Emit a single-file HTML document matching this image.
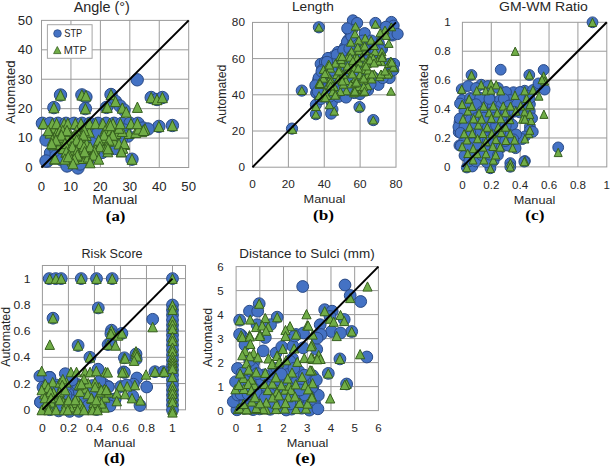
<!DOCTYPE html>
<html><head><meta charset="utf-8"><style>
html,body{margin:0;padding:0;background:#fff;}
svg{display:block;}
</style></head><body>
<svg width="610" height="467" viewBox="0 0 610 467">
<rect width="610" height="467" fill="#fff"/>
<path d="M70.94 167.50V20.40 M100.38 167.50V20.40 M129.82 167.50V20.40 M159.26 167.50V20.40 M41.50 138.08H188.70 M41.50 108.66H188.70 M41.50 79.24H188.70 M41.50 49.82H188.70" stroke="#9a9a9a" stroke-width="1" fill="none"/>
<rect x="41.50" y="20.40" width="147.20" height="147.10" stroke="#9a9a9a" stroke-width="1" fill="none"/>
<path d="M288.38 167.20V22.40 M324.25 167.20V22.40 M360.12 167.20V22.40 M252.50 131.00H396.00 M252.50 94.80H396.00 M252.50 58.60H396.00" stroke="#9a9a9a" stroke-width="1" fill="none"/>
<rect x="252.50" y="22.40" width="143.50" height="144.80" stroke="#9a9a9a" stroke-width="1" fill="none"/>
<path d="M491.28 166.90V22.30 M520.16 166.90V22.30 M549.04 166.90V22.30 M577.92 166.90V22.30 M462.40 137.98H606.80 M462.40 109.06H606.80 M462.40 80.14H606.80 M462.40 51.22H606.80" stroke="#9a9a9a" stroke-width="1" fill="none"/>
<rect x="462.40" y="22.30" width="144.40" height="144.60" stroke="#9a9a9a" stroke-width="1" fill="none"/>
<path d="M68.42 409.80V265.48 M94.44 409.80V265.48 M120.46 409.80V265.48 M146.48 409.80V265.48 M172.50 409.80V265.48 M42.40 383.56H185.51 M42.40 357.32H185.51 M42.40 331.08H185.51 M42.40 304.84H185.51 M42.40 278.60H185.51" stroke="#9a9a9a" stroke-width="1" fill="none"/>
<rect x="42.40" y="265.48" width="143.11" height="144.32" stroke="#9a9a9a" stroke-width="1" fill="none"/>
<path d="M259.82 410.60V266.60 M283.53 410.60V266.60 M307.25 410.60V266.60 M330.97 410.60V266.60 M354.68 410.60V266.60 M236.10 386.60H378.40 M236.10 362.60H378.40 M236.10 338.60H378.40 M236.10 314.60H378.40 M236.10 290.60H378.40" stroke="#9a9a9a" stroke-width="1" fill="none"/>
<rect x="236.10" y="266.60" width="142.30" height="144.00" stroke="#9a9a9a" stroke-width="1" fill="none"/>
<rect x="47.4" y="24.7" width="44.7" height="33.6" fill="#fff" stroke="#a6a6a6" stroke-width="1"/>
<g fill="#4472c4" stroke="#2a4a85" stroke-width="1">
<circle cx="137.2" cy="79.8" r="6.2"/>
<circle cx="60.5" cy="95.0" r="6.2"/>
<circle cx="53.9" cy="107.6" r="6.2"/>
<circle cx="81.9" cy="94.9" r="6.2"/>
<circle cx="85.9" cy="97.0" r="6.2"/>
<circle cx="85.4" cy="108.6" r="6.2"/>
<circle cx="111.0" cy="94.5" r="6.2"/>
<circle cx="115.5" cy="101.4" r="6.2"/>
<circle cx="106.5" cy="107.4" r="6.2"/>
<circle cx="151.2" cy="97.5" r="6.2"/>
<circle cx="157.0" cy="99.5" r="6.2"/>
<circle cx="162.4" cy="97.5" r="6.2"/>
<circle cx="158.9" cy="126.4" r="6.2"/>
<circle cx="172.4" cy="125.5" r="6.2"/>
<circle cx="132.0" cy="159.2" r="6.2"/>
<circle cx="120.0" cy="106.0" r="6.2"/>
<circle cx="124.0" cy="110.0" r="6.2"/>
<circle cx="42.4" cy="123.3" r="6.2"/>
<circle cx="50.0" cy="123.3" r="6.2"/>
<circle cx="58.0" cy="123.3" r="6.2"/>
<circle cx="66.0" cy="123.3" r="6.2"/>
<circle cx="74.0" cy="123.3" r="6.2"/>
<circle cx="82.0" cy="123.3" r="6.2"/>
<circle cx="90.0" cy="123.3" r="6.2"/>
<circle cx="98.0" cy="123.3" r="6.2"/>
<circle cx="106.0" cy="123.3" r="6.2"/>
<circle cx="114.0" cy="123.3" r="6.2"/>
<circle cx="122.0" cy="123.3" r="6.2"/>
<circle cx="130.0" cy="123.3" r="6.2"/>
<circle cx="138.0" cy="123.3" r="6.2"/>
<circle cx="143.0" cy="128.0" r="6.2"/>
<circle cx="148.0" cy="129.0" r="6.2"/>
<circle cx="47.5" cy="161.0" r="6.2"/>
<circle cx="50.5" cy="153.0" r="6.2"/>
<circle cx="56.0" cy="151.0" r="6.2"/>
<circle cx="68.4" cy="165.0" r="6.2"/>
<circle cx="78.0" cy="168.0" r="6.2"/>
<circle cx="92.0" cy="140.0" r="6.2"/>
<circle cx="102.0" cy="146.0" r="6.2"/>
<circle cx="116.0" cy="141.0" r="6.2"/>
<circle cx="88.0" cy="160.0" r="6.2"/>
<circle cx="120.0" cy="150.0" r="6.2"/>
<circle cx="56.0" cy="156.0" r="6.2"/>
<circle cx="62.0" cy="160.0" r="6.2"/>
<circle cx="110.0" cy="135.0" r="6.2"/>
<circle cx="98.0" cy="131.0" r="6.2"/>
<circle cx="124.0" cy="130.0" r="6.2"/>
<circle cx="128.0" cy="136.0" r="6.2"/>
<circle cx="46.0" cy="140.0" r="6.2"/>
<circle cx="93.0" cy="140.5" r="6.2"/>
<circle cx="102.0" cy="152.5" r="6.2"/>
<circle cx="114.5" cy="148.5" r="6.2"/>
<circle cx="98.0" cy="133.0" r="6.2"/>
<circle cx="121.5" cy="138.0" r="6.2"/>
<circle cx="80.0" cy="164.0" r="6.2"/>
<circle cx="67.0" cy="166.0" r="6.2"/>
<circle cx="46.0" cy="161.0" r="6.2"/>
</g>
<g fill="#70ad47" stroke="#365f1e" stroke-width="1" stroke-linejoin="miter">
<path d="M60.5 89.8L65.5 100.2L55.5 100.2Z"/>
<path d="M53.9 102.4L58.9 112.8L48.9 112.8Z"/>
<path d="M81.9 89.8L86.9 100.1L76.9 100.1Z"/>
<path d="M85.9 90.6L90.9 101.0L80.9 101.0Z"/>
<path d="M85.4 103.4L90.4 113.8L80.4 113.8Z"/>
<path d="M111.0 89.3L116.0 99.7L106.0 99.7Z"/>
<path d="M115.5 96.2L120.5 106.6L110.5 106.6Z"/>
<path d="M106.5 102.2L111.5 112.6L101.5 112.6Z"/>
<path d="M151.2 92.3L156.2 102.7L146.2 102.7Z"/>
<path d="M157.0 94.3L162.0 104.7L152.0 104.7Z"/>
<path d="M162.4 92.3L167.4 102.7L157.4 102.7Z"/>
<path d="M158.9 121.2L163.9 131.6L153.9 131.6Z"/>
<path d="M172.4 120.3L177.4 130.7L167.4 130.7Z"/>
<path d="M132.0 154.0L137.0 164.3L127.0 164.3Z"/>
<path d="M137.4 102.0L142.4 112.4L132.4 112.4Z"/>
<path d="M122.3 102.9L127.3 113.2L117.3 113.2Z"/>
<path d="M126.2 106.8L131.2 117.2L121.2 117.2Z"/>
<path d="M107.3 102.0L112.3 112.4L102.3 112.4Z"/>
<path d="M129.1 128.2L134.1 138.5L124.1 138.5Z"/>
<path d="M98.5 138.9L103.5 149.2L93.5 149.2Z"/>
<path d="M141.8 126.3L146.8 136.7L136.8 136.7Z"/>
<path d="M65.3 123.7L70.3 134.0L60.3 134.0Z"/>
<path d="M70.8 152.9L75.8 163.2L65.8 163.2Z"/>
<path d="M105.6 123.4L110.6 133.8L100.6 133.8Z"/>
<path d="M83.5 144.2L88.5 154.5L78.5 154.5Z"/>
<path d="M86.3 130.2L91.3 140.5L81.3 140.5Z"/>
<path d="M53.2 123.0L58.2 133.3L48.2 133.3Z"/>
<path d="M135.7 127.2L140.7 137.6L130.7 137.6Z"/>
<path d="M124.6 139.2L129.6 149.6L119.6 149.6Z"/>
<path d="M66.2 139.2L71.2 149.6L61.2 149.6Z"/>
<path d="M83.1 153.2L88.1 163.5L78.1 163.5Z"/>
<path d="M82.6 135.9L87.6 146.2L77.6 146.2Z"/>
<path d="M116.1 128.2L121.1 138.6L111.1 138.6Z"/>
<path d="M75.5 143.3L80.5 153.7L70.5 153.7Z"/>
<path d="M90.0 143.4L95.0 153.8L85.0 153.8Z"/>
<path d="M122.2 126.2L127.2 136.6L117.2 136.6Z"/>
<path d="M119.1 123.0L124.1 133.3L114.1 133.3Z"/>
<path d="M106.2 139.0L111.2 149.3L101.2 149.3Z"/>
<path d="M52.9 139.5L57.9 149.8L47.9 149.8Z"/>
<path d="M56.6 128.0L61.6 138.3L51.6 138.3Z"/>
<path d="M77.4 126.8L82.4 137.2L72.4 137.2Z"/>
<path d="M94.9 143.3L99.9 153.7L89.9 153.7Z"/>
<path d="M102.4 134.2L107.4 144.6L97.4 144.6Z"/>
<path d="M145.0 123.8L150.0 134.2L140.0 134.2Z"/>
<path d="M72.7 139.8L77.7 150.2L67.7 150.2Z"/>
<path d="M87.0 148.5L92.0 158.8L82.0 158.8Z"/>
<path d="M70.5 144.7L75.5 155.0L65.5 155.0Z"/>
<path d="M65.8 147.0L70.8 157.3L60.8 157.3Z"/>
<path d="M72.0 155.7L77.0 166.0L67.0 166.0Z"/>
<path d="M108.5 135.7L113.5 146.0L103.5 146.0Z"/>
<path d="M69.9 135.8L74.9 146.1L64.9 146.1Z"/>
<path d="M63.6 135.7L68.6 146.0L58.6 146.0Z"/>
<path d="M114.1 135.8L119.1 146.1L109.1 146.1Z"/>
<path d="M86.7 138.5L91.7 148.8L81.7 148.8Z"/>
<path d="M68.9 126.3L73.9 136.7L63.9 136.7Z"/>
<path d="M60.2 139.2L65.2 149.6L55.2 149.6Z"/>
<path d="M119.0 138.7L124.0 149.0L114.0 149.0Z"/>
<path d="M66.3 130.4L71.3 140.8L61.3 140.8Z"/>
<path d="M138.5 123.8L143.5 134.1L133.5 134.1Z"/>
<path d="M80.4 130.2L85.4 140.5L75.4 140.5Z"/>
<path d="M56.7 135.4L61.7 145.8L51.7 145.8Z"/>
<path d="M54.3 132.4L59.3 142.8L49.3 142.8Z"/>
<path d="M72.5 131.8L77.5 142.2L67.5 142.2Z"/>
<path d="M77.3 135.4L82.3 145.8L72.3 145.8Z"/>
<path d="M109.2 128.0L114.2 138.3L104.2 138.3Z"/>
<path d="M79.0 139.3L84.0 149.7L74.0 149.7Z"/>
<path d="M63.3 143.2L68.3 153.5L58.3 153.5Z"/>
<path d="M111.5 130.2L116.5 140.6L106.5 140.6Z"/>
<path d="M73.2 147.5L78.2 157.8L68.2 157.8Z"/>
<path d="M88.2 151.8L93.2 162.1L83.2 162.1Z"/>
<path d="M64.2 126.0L69.2 136.3L59.2 136.3Z"/>
<path d="M59.0 131.9L64.0 142.2L54.0 142.2Z"/>
<path d="M50.0 127.8L55.0 138.1L45.0 138.1Z"/>
<path d="M77.0 151.0L82.0 161.3L72.0 161.3Z"/>
<path d="M83.1 126.5L88.1 136.8L78.1 136.8Z"/>
<path d="M80.2 146.9L85.2 157.2L75.2 157.2Z"/>
<path d="M89.3 126.8L94.3 137.1L84.3 137.1Z"/>
<path d="M105.5 132.4L110.5 142.8L100.5 142.8Z"/>
<path d="M122.8 143.0L127.8 153.3L117.8 153.3Z"/>
<path d="M108.4 143.7L113.4 154.0L103.4 154.0Z"/>
<path d="M93.5 149.0L98.5 159.3L88.5 159.3Z"/>
<path d="M43.3 118.3L48.3 128.7L38.3 128.7Z"/>
<path d="M52.4 118.3L57.4 128.7L47.4 128.7Z"/>
<path d="M56.6 118.3L61.6 128.7L51.6 128.7Z"/>
<path d="M64.2 118.3L69.2 128.7L59.2 128.7Z"/>
<path d="M67.8 118.3L72.8 128.7L62.8 128.7Z"/>
<path d="M75.3 118.3L80.3 128.7L70.3 128.7Z"/>
<path d="M81.0 118.3L86.0 128.7L76.0 128.7Z"/>
<path d="M87.9 118.3L92.9 128.7L82.9 128.7Z"/>
<path d="M89.5 118.3L94.5 128.7L84.5 128.7Z"/>
<path d="M95.6 118.3L100.6 128.7L90.6 128.7Z"/>
<path d="M102.9 118.3L107.9 128.7L97.9 128.7Z"/>
<path d="M109.6 118.3L114.6 128.7L104.6 128.7Z"/>
<path d="M113.0 118.3L118.0 128.7L108.0 128.7Z"/>
<path d="M120.4 118.3L125.4 128.7L115.4 128.7Z"/>
<path d="M131.0 118.3L136.0 128.7L126.0 128.7Z"/>
<path d="M137.4 118.3L142.4 128.7L132.4 128.7Z"/>
<path d="M48.2 125.3L53.2 135.7L43.2 135.7Z"/>
<path d="M60.0 125.3L65.0 135.7L55.0 135.7Z"/>
<path d="M62.8 125.3L67.8 135.7L57.8 135.7Z"/>
<path d="M67.0 125.3L72.0 135.7L62.0 135.7Z"/>
<path d="M76.7 125.3L81.7 135.7L71.7 135.7Z"/>
<path d="M84.4 125.3L89.4 135.7L79.4 135.7Z"/>
<path d="M105.2 125.3L110.2 135.7L100.2 135.7Z"/>
<path d="M110.8 125.3L115.8 135.7L105.8 135.7Z"/>
<path d="M61.4 129.8L66.4 140.2L56.4 140.2Z"/>
<path d="M76.0 129.8L81.0 140.2L71.0 140.2Z"/>
<path d="M83.4 129.8L88.4 140.2L78.4 140.2Z"/>
<path d="M104.1 129.8L109.1 140.2L99.1 140.2Z"/>
<path d="M112.1 129.8L117.1 140.2L107.1 140.2Z"/>
<path d="M112.7 129.8L117.7 140.2L107.7 140.2Z"/>
<path d="M52.4 134.8L57.4 145.2L47.4 145.2Z"/>
<path d="M55.9 134.8L60.9 145.2L50.9 145.2Z"/>
<path d="M71.2 134.8L76.2 145.2L66.2 145.2Z"/>
<path d="M76.7 134.8L81.7 145.2L71.7 145.2Z"/>
<path d="M98.7 134.8L103.7 145.2L93.7 145.2Z"/>
<path d="M109.0 134.8L114.0 145.2L104.0 145.2Z"/>
<path d="M51.7 138.2L56.7 148.6L46.7 148.6Z"/>
<path d="M64.9 138.2L69.9 148.6L59.9 148.6Z"/>
<path d="M80.9 138.2L85.9 148.6L75.9 148.6Z"/>
<path d="M124.3 138.2L129.3 148.6L119.3 148.6Z"/>
<path d="M71.2 141.5L76.2 151.8L66.2 151.8Z"/>
<path d="M72.4 141.5L77.4 151.8L67.4 151.8Z"/>
<path d="M84.0 141.5L89.0 151.8L79.0 151.8Z"/>
<path d="M90.1 141.5L95.1 151.8L85.1 151.8Z"/>
<path d="M99.9 141.5L104.9 151.8L94.9 151.8Z"/>
<path d="M107.2 141.5L112.2 151.8L102.2 151.8Z"/>
<path d="M66.3 146.4L71.3 156.8L61.3 156.8Z"/>
<path d="M76.7 146.4L81.7 156.8L71.7 156.8Z"/>
<path d="M84.6 146.4L89.6 156.8L79.6 156.8Z"/>
<path d="M94.4 146.4L99.4 156.8L89.4 156.8Z"/>
<path d="M107.8 146.4L112.8 156.8L102.8 156.8Z"/>
<path d="M121.2 146.4L126.2 156.8L116.2 156.8Z"/>
<path d="M121.4 146.4L126.4 156.8L116.4 156.8Z"/>
<path d="M69.1 149.8L74.1 160.2L64.1 160.2Z"/>
<path d="M77.4 149.8L82.4 160.2L72.4 160.2Z"/>
<path d="M93.4 149.8L98.4 160.2L88.4 160.2Z"/>
<path d="M54.5 153.8L59.5 164.2L49.5 164.2Z"/>
<path d="M64.9 153.8L69.9 164.2L59.9 164.2Z"/>
<path d="M74.3 153.8L79.3 164.2L69.3 164.2Z"/>
<path d="M98.7 153.8L103.7 164.2L93.7 164.2Z"/>
<path d="M90.1 157.5L95.1 167.8L85.1 167.8Z"/>
<path d="M143.5 125.2L148.5 135.5L138.5 135.5Z"/>
<path d="M107.9 143.4L112.9 153.8L102.9 153.8Z"/>
<path d="M110.4 120.3L115.4 130.7L105.4 130.7Z"/>
<path d="M55.0 153.5L60.0 163.8L50.0 163.8Z"/>
<path d="M68.2 151.5L73.2 161.8L63.2 161.8Z"/>
<path d="M73.0 158.4L78.0 168.8L68.0 168.8Z"/>
</g>
<g fill="#4472c4" stroke="#2a4a85" stroke-width="1">
<circle cx="292.0" cy="128.6" r="5.6"/>
<circle cx="301.8" cy="90.6" r="5.6"/>
<circle cx="318.9" cy="27.3" r="5.6"/>
<circle cx="352.9" cy="20.4" r="5.6"/>
<circle cx="357.1" cy="23.0" r="5.6"/>
<circle cx="375.4" cy="23.0" r="5.6"/>
<circle cx="391.4" cy="22.0" r="5.6"/>
<circle cx="393.6" cy="25.7" r="5.6"/>
<circle cx="348.6" cy="30.0" r="5.6"/>
<circle cx="348.0" cy="40.2" r="5.6"/>
<circle cx="364.7" cy="33.2" r="5.6"/>
<circle cx="392.5" cy="35.4" r="5.6"/>
<circle cx="386.0" cy="26.8" r="5.6"/>
<circle cx="382.0" cy="49.0" r="5.6"/>
<circle cx="342.0" cy="53.6" r="5.6"/>
<circle cx="350.7" cy="54.7" r="5.6"/>
<circle cx="320.7" cy="63.9" r="5.6"/>
<circle cx="318.6" cy="78.9" r="5.6"/>
<circle cx="316.4" cy="92.9" r="5.6"/>
<circle cx="333.6" cy="56.4" r="5.6"/>
<circle cx="334.7" cy="74.7" r="5.6"/>
<circle cx="355.0" cy="90.7" r="5.6"/>
<circle cx="317.7" cy="81.8" r="5.6"/>
<circle cx="316.5" cy="93.0" r="5.6"/>
<circle cx="315.9" cy="104.7" r="5.6"/>
<circle cx="315.9" cy="114.2" r="5.6"/>
<circle cx="332.4" cy="109.4" r="5.6"/>
<circle cx="331.2" cy="113.6" r="5.6"/>
<circle cx="331.8" cy="102.4" r="5.6"/>
<circle cx="359.5" cy="107.1" r="5.6"/>
<circle cx="373.3" cy="120.1" r="5.6"/>
<circle cx="354.2" cy="93.0" r="5.6"/>
<circle cx="325.0" cy="62.0" r="5.6"/>
<circle cx="338.0" cy="52.0" r="5.6"/>
<circle cx="345.0" cy="47.0" r="5.6"/>
<circle cx="328.0" cy="58.0" r="5.6"/>
<circle cx="322.0" cy="70.0" r="5.6"/>
<circle cx="316.0" cy="86.0" r="5.6"/>
<circle cx="320.0" cy="98.0" r="5.6"/>
<circle cx="360.0" cy="94.0" r="5.6"/>
<circle cx="368.0" cy="90.0" r="5.6"/>
<circle cx="369.0" cy="84.0" r="5.6"/>
<circle cx="392.0" cy="70.0" r="5.6"/>
<circle cx="394.0" cy="64.0" r="5.6"/>
<circle cx="352.0" cy="30.0" r="5.6"/>
<circle cx="352.0" cy="38.0" r="5.6"/>
<circle cx="360.0" cy="50.0" r="5.6"/>
<circle cx="370.0" cy="50.0" r="5.6"/>
<circle cx="378.0" cy="50.0" r="5.6"/>
<circle cx="340.0" cy="88.0" r="5.6"/>
<circle cx="330.0" cy="92.0" r="5.6"/>
<circle cx="391.2" cy="34.4" r="5.6"/>
<circle cx="357.5" cy="90.0" r="5.6"/>
<circle cx="389.6" cy="78.0" r="5.6"/>
<circle cx="318.8" cy="77.6" r="5.6"/>
<circle cx="346.6" cy="57.5" r="5.6"/>
<circle cx="373.5" cy="77.4" r="5.6"/>
<circle cx="338.3" cy="96.8" r="5.6"/>
<circle cx="340.5" cy="77.1" r="5.6"/>
<circle cx="365.4" cy="62.9" r="5.6"/>
<circle cx="378.7" cy="43.0" r="5.6"/>
<circle cx="342.4" cy="63.9" r="5.6"/>
<circle cx="336.7" cy="54.9" r="5.6"/>
<circle cx="344.8" cy="69.3" r="5.6"/>
<circle cx="362.8" cy="84.2" r="5.6"/>
<circle cx="393.3" cy="70.0" r="5.6"/>
<circle cx="378.3" cy="57.0" r="5.6"/>
<circle cx="334.4" cy="89.6" r="5.6"/>
<circle cx="348.8" cy="62.8" r="5.6"/>
<circle cx="346.6" cy="84.7" r="5.6"/>
<circle cx="321.6" cy="71.5" r="5.6"/>
<circle cx="356.9" cy="64.0" r="5.6"/>
<circle cx="322.1" cy="84.1" r="5.6"/>
<circle cx="358.1" cy="49.8" r="5.6"/>
<circle cx="338.0" cy="69.5" r="5.6"/>
<circle cx="320.8" cy="99.0" r="5.6"/>
<circle cx="363.5" cy="56.1" r="5.6"/>
<circle cx="347.0" cy="41.9" r="5.6"/>
<circle cx="346.1" cy="97.5" r="5.6"/>
<circle cx="343.3" cy="50.3" r="5.6"/>
<circle cx="354.7" cy="83.0" r="5.6"/>
<circle cx="397.6" cy="34.0" r="5.6"/>
<circle cx="378.4" cy="84.8" r="5.6"/>
<circle cx="329.0" cy="85.0" r="5.6"/>
<circle cx="353.4" cy="41.9" r="5.6"/>
<circle cx="325.2" cy="91.6" r="5.6"/>
<circle cx="325.4" cy="78.3" r="5.6"/>
<circle cx="334.4" cy="77.2" r="5.6"/>
<circle cx="380.6" cy="50.3" r="5.6"/>
<circle cx="351.4" cy="36.1" r="5.6"/>
<circle cx="369.7" cy="55.2" r="5.6"/>
<circle cx="382.7" cy="78.0" r="5.6"/>
<circle cx="334.7" cy="64.3" r="5.6"/>
<circle cx="374.9" cy="50.1" r="5.6"/>
<circle cx="349.5" cy="48.6" r="5.6"/>
<circle cx="366.4" cy="77.9" r="5.6"/>
<circle cx="390.0" cy="63.7" r="5.6"/>
<circle cx="362.6" cy="40.7" r="5.6"/>
<circle cx="370.5" cy="83.8" r="5.6"/>
<circle cx="315.4" cy="85.4" r="5.6"/>
<circle cx="353.0" cy="54.6" r="5.6"/>
<circle cx="361.6" cy="70.9" r="5.6"/>
<circle cx="327.0" cy="61.9" r="5.6"/>
<circle cx="339.3" cy="83.9" r="5.6"/>
<circle cx="357.9" cy="78.0" r="5.6"/>
<circle cx="349.3" cy="77.5" r="5.6"/>
<circle cx="365.1" cy="89.6" r="5.6"/>
<circle cx="348.7" cy="89.9" r="5.6"/>
<circle cx="364.8" cy="49.7" r="5.6"/>
<circle cx="317.8" cy="91.5" r="5.6"/>
<circle cx="341.9" cy="90.2" r="5.6"/>
<circle cx="331.4" cy="70.4" r="5.6"/>
<circle cx="347.3" cy="28.4" r="5.6"/>
<circle cx="354.8" cy="71.1" r="5.6"/>
<circle cx="371.4" cy="40.6" r="5.6"/>
<circle cx="329.6" cy="96.6" r="5.6"/>
</g>
<g fill="#70ad47" stroke="#365f1e" stroke-width="1" stroke-linejoin="miter">
<path d="M366.4 59.3L370.7 67.2L362.1 67.2Z"/>
<path d="M323.5 65.5L327.8 73.4L319.2 73.4Z"/>
<path d="M346.4 86.8L350.7 94.8L342.1 94.8Z"/>
<path d="M348.1 65.5L352.4 73.4L343.8 73.4Z"/>
<path d="M361.5 86.2L365.8 94.2L357.2 94.2Z"/>
<path d="M365.5 46.8L369.8 54.8L361.2 54.8Z"/>
<path d="M334.2 82.5L338.5 90.5L329.9 90.5Z"/>
<path d="M354.6 85.5L358.9 93.5L350.3 93.5Z"/>
<path d="M362.4 65.5L366.7 73.5L358.1 73.5Z"/>
<path d="M381.4 57.8L385.7 65.7L377.1 65.7Z"/>
<path d="M351.6 68.8L355.9 76.8L347.3 76.8Z"/>
<path d="M336.8 70.5L341.1 78.5L332.5 78.5Z"/>
<path d="M359.0 46.4L363.3 54.4L354.7 54.4Z"/>
<path d="M338.3 75.2L342.6 83.2L334.0 83.2Z"/>
<path d="M335.4 59.3L339.7 67.2L331.1 67.2Z"/>
<path d="M328.7 60.0L333.0 68.0L324.4 68.0Z"/>
<path d="M379.1 53.4L383.4 61.4L374.8 61.4Z"/>
<path d="M375.0 47.4L379.3 55.4L370.7 55.4Z"/>
<path d="M394.2 63.8L398.5 71.7L389.9 71.7Z"/>
<path d="M351.5 60.2L355.8 68.2L347.2 68.2Z"/>
<path d="M340.3 87.5L344.6 95.5L336.0 95.5Z"/>
<path d="M324.7 88.2L329.0 96.2L320.4 96.2Z"/>
<path d="M359.8 58.2L364.1 66.2L355.5 66.2Z"/>
<path d="M330.4 64.3L334.7 72.2L326.1 72.2Z"/>
<path d="M348.5 52.1L352.8 60.1L344.2 60.1Z"/>
<path d="M342.1 59.4L346.4 67.3L337.8 67.3Z"/>
<path d="M330.2 74.6L334.5 82.5L325.9 82.5Z"/>
<path d="M343.4 80.2L347.7 88.2L339.1 88.2Z"/>
<path d="M326.9 91.6L331.2 99.5L322.6 99.5Z"/>
<path d="M370.2 74.5L374.5 82.5L365.9 82.5Z"/>
<path d="M354.4 64.2L358.7 72.2L350.1 72.2Z"/>
<path d="M381.2 70.5L385.5 78.4L376.9 78.4Z"/>
<path d="M327.3 70.2L331.6 78.2L323.0 78.2Z"/>
<path d="M340.0 52.6L344.3 60.6L335.7 60.6Z"/>
<path d="M362.6 42.9L366.9 50.9L358.3 50.9Z"/>
<path d="M359.0 82.5L363.3 90.5L354.7 90.5Z"/>
<path d="M367.7 81.8L372.0 89.7L363.4 89.7Z"/>
<path d="M345.9 76.6L350.2 84.5L341.6 84.5Z"/>
<path d="M343.3 70.3L347.6 78.2L339.0 78.2Z"/>
<path d="M319.5 80.5L323.8 88.5L315.2 88.5Z"/>
<path d="M388.9 59.6L393.2 67.5L384.6 67.5Z"/>
<path d="M323.4 74.3L327.7 82.2L319.1 82.2Z"/>
<path d="M367.7 70.8L372.0 78.8L363.4 78.8Z"/>
<path d="M374.2 69.8L378.5 77.7L369.9 77.7Z"/>
<path d="M351.2 80.0L355.5 87.9L346.9 87.9Z"/>
<path d="M388.9 68.8L393.2 76.8L384.6 76.8Z"/>
<path d="M319.1 91.6L323.4 99.5L314.8 99.5Z"/>
<path d="M360.0 70.8L364.3 78.8L355.7 78.8Z"/>
<path d="M361.8 53.2L366.1 61.2L357.5 61.2Z"/>
<path d="M351.5 47.2L355.8 55.2L347.2 55.2Z"/>
<path d="M354.8 53.9L359.1 61.9L350.5 61.9Z"/>
<path d="M332.6 87.8L336.9 95.7L328.3 95.7Z"/>
<path d="M369.3 53.8L373.6 61.7L365.0 61.7Z"/>
<path d="M355.3 74.6L359.6 82.5L351.0 82.5Z"/>
<path d="M381.8 47.8L386.1 55.8L377.5 55.8Z"/>
<path d="M362.1 75.2L366.4 83.2L357.8 83.2Z"/>
<path d="M339.5 65.5L343.8 73.5L335.2 73.5Z"/>
<path d="M328.6 80.3L332.9 88.2L324.3 88.2Z"/>
<path d="M292.5 125.5L296.8 133.4L288.2 133.4Z"/>
<path d="M301.8 86.6L306.1 94.5L297.5 94.5Z"/>
<path d="M318.9 23.4L323.2 31.2L314.6 31.2Z"/>
<path d="M355.5 22.4L359.8 30.2L351.2 30.2Z"/>
<path d="M375.4 20.2L379.7 28.1L371.1 28.1Z"/>
<path d="M391.4 22.9L395.7 30.8L387.1 30.8Z"/>
<path d="M385.0 26.1L389.3 34.0L380.7 34.0Z"/>
<path d="M355.0 29.8L359.3 37.8L350.7 37.8Z"/>
<path d="M380.2 28.8L384.5 36.7L375.9 36.7Z"/>
<path d="M386.1 31.4L390.4 39.4L381.8 39.4Z"/>
<path d="M350.7 38.3L355.0 46.2L346.4 46.2Z"/>
<path d="M358.8 36.2L363.1 44.2L354.5 44.2Z"/>
<path d="M365.2 34.0L369.5 42.0L360.9 42.0Z"/>
<path d="M371.1 36.2L375.4 44.2L366.8 44.2Z"/>
<path d="M379.1 36.2L383.4 44.2L374.8 44.2Z"/>
<path d="M388.8 39.4L393.1 47.4L384.5 47.4Z"/>
<path d="M357.7 43.2L362.0 51.2L353.4 51.2Z"/>
<path d="M364.7 42.1L369.0 50.1L360.4 50.1Z"/>
<path d="M374.3 41.5L378.6 49.5L370.0 49.5Z"/>
<path d="M342.7 53.9L347.0 61.9L338.4 61.9Z"/>
<path d="M350.2 53.3L354.5 61.2L345.9 61.2Z"/>
<path d="M357.1 53.9L361.4 61.9L352.8 61.9Z"/>
<path d="M371.1 52.8L375.4 60.8L366.8 60.8Z"/>
<path d="M382.3 51.8L386.6 59.7L378.0 59.7Z"/>
<path d="M377.5 57.1L381.8 65.0L373.2 65.0Z"/>
<path d="M390.9 57.1L395.2 65.0L386.6 65.0Z"/>
<path d="M329.3 61.0L333.6 69.0L325.0 69.0Z"/>
<path d="M341.1 55.6L345.4 63.6L336.8 63.6Z"/>
<path d="M342.2 52.4L346.5 60.4L337.9 60.4Z"/>
<path d="M325.0 69.6L329.3 77.5L320.7 77.5Z"/>
<path d="M338.9 67.0L343.2 74.9L334.6 74.9Z"/>
<path d="M347.5 62.1L351.8 70.0L343.2 70.0Z"/>
<path d="M352.9 56.8L357.2 64.7L348.6 64.7Z"/>
<path d="M358.2 64.2L362.5 72.2L353.9 72.2Z"/>
<path d="M365.7 58.9L370.0 66.8L361.4 66.8Z"/>
<path d="M319.6 78.2L323.9 86.2L315.3 86.2Z"/>
<path d="M330.4 78.2L334.7 86.2L326.1 86.2Z"/>
<path d="M342.2 77.1L346.5 85.0L337.9 85.0Z"/>
<path d="M352.3 70.1L356.6 78.0L348.0 78.0Z"/>
<path d="M355.0 79.2L359.3 87.2L350.7 87.2Z"/>
<path d="M363.6 76.0L367.9 84.0L359.3 84.0Z"/>
<path d="M335.7 90.0L340.0 97.9L331.4 97.9Z"/>
<path d="M353.9 89.0L358.2 96.9L349.6 96.9Z"/>
<path d="M362.5 87.8L366.8 95.8L358.2 95.8Z"/>
<path d="M323.9 93.8L328.2 101.7L319.6 101.7Z"/>
<path d="M367.9 70.8L372.2 78.7L363.6 78.7Z"/>
<path d="M319.4 79.0L323.7 87.0L315.1 87.0Z"/>
<path d="M315.9 102.5L320.2 110.5L311.6 110.5Z"/>
<path d="M315.9 110.2L320.2 118.2L311.6 118.2Z"/>
<path d="M334.2 107.2L338.5 115.2L329.9 115.2Z"/>
<path d="M329.4 100.8L333.7 108.7L325.1 108.7Z"/>
<path d="M335.3 91.3L339.6 99.2L331.0 99.2Z"/>
<path d="M359.5 103.1L363.8 111.0L355.2 111.0Z"/>
<path d="M373.3 116.1L377.6 124.0L369.0 124.0Z"/>
<path d="M354.8 87.8L359.1 95.8L350.5 95.8Z"/>
<path d="M363.6 87.8L367.9 95.8L359.3 95.8Z"/>
<path d="M320.0 79.5L324.3 87.5L315.7 87.5Z"/>
<path d="M330.6 82.0L334.9 89.9L326.3 89.9Z"/>
<path d="M325.3 93.8L329.6 101.7L321.0 101.7Z"/>
<path d="M391.0 87.2L395.3 95.2L386.7 95.2Z"/>
<path d="M393.4 63.0L397.7 71.0L389.1 71.0Z"/>
<path d="M387.8 70.3L392.1 78.2L383.5 78.2Z"/>
<path d="M379.7 72.8L384.0 80.7L375.4 80.7Z"/>
<path d="M371.7 75.1L376.0 83.0L367.4 83.0Z"/>
<path d="M363.7 74.3L368.0 82.2L359.4 82.2Z"/>
<path d="M356.4 78.3L360.7 86.2L352.1 86.2Z"/>
<path d="M363.7 82.5L368.0 90.4L359.4 90.4Z"/>
<path d="M354.8 87.2L359.1 95.2L350.5 95.2Z"/>
<path d="M364.5 87.2L368.8 95.2L360.2 95.2Z"/>
<path d="M373.3 54.2L377.6 62.2L369.0 62.2Z"/>
<path d="M382.2 53.4L386.5 61.4L377.9 61.4Z"/>
<path d="M391.8 58.2L396.1 66.2L387.5 66.2Z"/>
<path d="M366.9 59.8L371.2 67.8L362.6 67.8Z"/>
<path d="M370.0 56.0L374.3 64.0L365.7 64.0Z"/>
<path d="M374.0 59.0L378.3 67.0L369.7 67.0Z"/>
<path d="M368.0 66.0L372.3 74.0L363.7 74.0Z"/>
<path d="M372.0 70.0L376.3 78.0L367.7 78.0Z"/>
<path d="M366.0 62.0L370.3 70.0L361.7 70.0Z"/>
<path d="M381.0 70.0L385.3 78.0L376.7 78.0Z"/>
<path d="M385.0 67.0L389.3 75.0L380.7 75.0Z"/>
</g>
<g fill="#4472c4" stroke="#2a4a85" stroke-width="1">
<circle cx="592.5" cy="22.3" r="5.4"/>
<circle cx="471.5" cy="75.0" r="5.4"/>
<circle cx="500.7" cy="69.7" r="5.4"/>
<circle cx="529.3" cy="75.0" r="5.4"/>
<circle cx="543.6" cy="70.0" r="5.4"/>
<circle cx="461.7" cy="89.2" r="5.4"/>
<circle cx="481.2" cy="84.7" r="5.4"/>
<circle cx="515.0" cy="95.2" r="5.4"/>
<circle cx="513.5" cy="92.2" r="5.4"/>
<circle cx="524.7" cy="90.7" r="5.4"/>
<circle cx="533.0" cy="90.0" r="5.4"/>
<circle cx="539.0" cy="85.5" r="5.4"/>
<circle cx="529.2" cy="103.5" r="5.4"/>
<circle cx="538.5" cy="83.4" r="5.4"/>
<circle cx="544.6" cy="89.6" r="5.4"/>
<circle cx="522.5" cy="99.4" r="5.4"/>
<circle cx="529.9" cy="104.3" r="5.4"/>
<circle cx="529.9" cy="126.5" r="5.4"/>
<circle cx="529.9" cy="130.2" r="5.4"/>
<circle cx="524.9" cy="136.4" r="5.4"/>
<circle cx="558.2" cy="147.4" r="5.4"/>
<circle cx="524.9" cy="161.0" r="5.4"/>
<circle cx="459.4" cy="122.5" r="5.4"/>
<circle cx="458.7" cy="132.1" r="5.4"/>
<circle cx="459.4" cy="145.4" r="5.4"/>
<circle cx="466.8" cy="154.2" r="5.4"/>
<circle cx="466.8" cy="167.5" r="5.4"/>
<circle cx="490.4" cy="168.3" r="5.4"/>
<circle cx="510.3" cy="163.1" r="5.4"/>
<circle cx="510.3" cy="166.8" r="5.4"/>
<circle cx="524.3" cy="161.6" r="5.4"/>
<circle cx="468.0" cy="86.0" r="5.4"/>
<circle cx="476.0" cy="88.0" r="5.4"/>
<circle cx="488.0" cy="86.0" r="5.4"/>
<circle cx="498.0" cy="88.0" r="5.4"/>
<circle cx="506.0" cy="92.0" r="5.4"/>
<circle cx="520.0" cy="92.0" r="5.4"/>
<circle cx="528.0" cy="96.0" r="5.4"/>
<circle cx="462.0" cy="100.0" r="5.4"/>
<circle cx="470.0" cy="98.0" r="5.4"/>
<circle cx="480.0" cy="98.0" r="5.4"/>
<circle cx="490.0" cy="98.0" r="5.4"/>
<circle cx="500.0" cy="100.0" r="5.4"/>
<circle cx="510.0" cy="100.0" r="5.4"/>
<circle cx="520.0" cy="102.0" r="5.4"/>
<circle cx="529.8" cy="111.3" r="5.4"/>
<circle cx="483.6" cy="104.9" r="5.4"/>
<circle cx="481.3" cy="139.4" r="5.4"/>
<circle cx="473.8" cy="111.7" r="5.4"/>
<circle cx="515.6" cy="148.2" r="5.4"/>
<circle cx="492.8" cy="106.0" r="5.4"/>
<circle cx="495.7" cy="139.2" r="5.4"/>
<circle cx="471.7" cy="154.1" r="5.4"/>
<circle cx="472.3" cy="141.0" r="5.4"/>
<circle cx="464.5" cy="155.5" r="5.4"/>
<circle cx="508.1" cy="119.7" r="5.4"/>
<circle cx="473.0" cy="98.3" r="5.4"/>
<circle cx="509.7" cy="134.3" r="5.4"/>
<circle cx="490.4" cy="113.0" r="5.4"/>
<circle cx="493.7" cy="160.7" r="5.4"/>
<circle cx="464.4" cy="110.7" r="5.4"/>
<circle cx="494.4" cy="147.5" r="5.4"/>
<circle cx="460.0" cy="103.5" r="5.4"/>
<circle cx="522.3" cy="139.1" r="5.4"/>
<circle cx="501.1" cy="105.4" r="5.4"/>
<circle cx="464.2" cy="140.6" r="5.4"/>
<circle cx="472.3" cy="166.5" r="5.4"/>
<circle cx="458.4" cy="126.9" r="5.4"/>
<circle cx="484.6" cy="148.2" r="5.4"/>
<circle cx="503.8" cy="98.9" r="5.4"/>
<circle cx="494.2" cy="134.0" r="5.4"/>
<circle cx="501.6" cy="147.3" r="5.4"/>
<circle cx="484.0" cy="132.0" r="5.4"/>
<circle cx="477.2" cy="145.9" r="5.4"/>
<circle cx="469.1" cy="103.7" r="5.4"/>
<circle cx="482.1" cy="126.4" r="5.4"/>
<circle cx="509.0" cy="105.5" r="5.4"/>
<circle cx="501.2" cy="118.8" r="5.4"/>
<circle cx="470.4" cy="119.8" r="5.4"/>
<circle cx="507.9" cy="145.6" r="5.4"/>
<circle cx="480.1" cy="98.0" r="5.4"/>
<circle cx="512.4" cy="124.7" r="5.4"/>
<circle cx="495.5" cy="111.1" r="5.4"/>
<circle cx="519.7" cy="112.4" r="5.4"/>
<circle cx="472.1" cy="125.7" r="5.4"/>
<circle cx="516.1" cy="134.4" r="5.4"/>
<circle cx="477.2" cy="134.1" r="5.4"/>
<circle cx="487.8" cy="127.5" r="5.4"/>
<circle cx="460.8" cy="145.7" r="5.4"/>
<circle cx="489.4" cy="98.9" r="5.4"/>
<circle cx="522.4" cy="99.4" r="5.4"/>
<circle cx="486.5" cy="162.1" r="5.4"/>
<circle cx="496.1" cy="125.3" r="5.4"/>
<circle cx="470.4" cy="133.0" r="5.4"/>
<circle cx="506.2" cy="111.9" r="5.4"/>
<circle cx="532.1" cy="118.3" r="5.4"/>
<circle cx="469.2" cy="161.3" r="5.4"/>
<circle cx="459.8" cy="118.5" r="5.4"/>
<circle cx="475.7" cy="161.4" r="5.4"/>
<circle cx="532.8" cy="131.8" r="5.4"/>
<circle cx="516.9" cy="104.3" r="5.4"/>
<circle cx="505.2" cy="141.1" r="5.4"/>
<circle cx="481.7" cy="155.2" r="5.4"/>
<circle cx="513.3" cy="139.3" r="5.4"/>
<circle cx="488.0" cy="140.7" r="5.4"/>
<circle cx="526.5" cy="106.5" r="5.4"/>
<circle cx="514.4" cy="111.7" r="5.4"/>
<circle cx="464.4" cy="127.2" r="5.4"/>
<circle cx="476.1" cy="104.2" r="5.4"/>
<circle cx="529.5" cy="98.3" r="5.4"/>
<circle cx="460.6" cy="132.9" r="5.4"/>
<circle cx="468.0" cy="146.6" r="5.4"/>
<circle cx="489.7" cy="154.6" r="5.4"/>
<circle cx="482.0" cy="111.7" r="5.4"/>
<circle cx="475.9" cy="118.2" r="5.4"/>
<circle cx="505.8" cy="125.5" r="5.4"/>
<circle cx="497.9" cy="155.2" r="5.4"/>
<circle cx="493.9" cy="118.0" r="5.4"/>
<circle cx="500.2" cy="132.1" r="5.4"/>
<circle cx="483.8" cy="117.7" r="5.4"/>
</g>
<g fill="#70ad47" stroke="#365f1e" stroke-width="1" stroke-linejoin="miter">
<path d="M592.5 18.1L596.5 26.5L588.5 26.5Z"/>
<path d="M515.2 47.1L519.2 55.4L511.2 55.4Z"/>
<path d="M471.5 70.8L475.5 79.2L467.5 79.2Z"/>
<path d="M529.4 70.8L533.4 79.1L525.4 79.1Z"/>
<path d="M543.6 71.8L547.6 80.2L539.6 80.2Z"/>
<path d="M544.6 76.8L548.6 85.1L540.6 85.1Z"/>
<path d="M461.7 85.0L465.7 93.4L457.7 93.4Z"/>
<path d="M481.2 80.5L485.2 88.9L477.2 88.9Z"/>
<path d="M476.7 86.5L480.7 94.9L472.7 94.9Z"/>
<path d="M485.7 86.5L489.7 94.9L481.7 94.9Z"/>
<path d="M491.0 79.8L495.0 88.2L487.0 88.2Z"/>
<path d="M496.2 80.5L500.2 88.9L492.2 88.9Z"/>
<path d="M491.0 85.8L495.0 94.2L487.0 94.2Z"/>
<path d="M500.7 86.5L504.7 94.9L496.7 94.9Z"/>
<path d="M467.0 135.7L471.0 144.0L463.0 144.0Z"/>
<path d="M510.5 101.9L514.5 110.2L506.5 110.2Z"/>
<path d="M477.5 134.5L481.5 142.8L473.5 142.8Z"/>
<path d="M515.8 106.8L519.8 115.2L511.8 115.2Z"/>
<path d="M500.3 142.8L504.3 151.2L496.3 151.2Z"/>
<path d="M493.3 155.9L497.3 164.2L489.3 164.2Z"/>
<path d="M510.2 129.4L514.2 137.8L506.2 137.8Z"/>
<path d="M462.2 142.3L466.2 150.7L458.2 150.7Z"/>
<path d="M485.9 137.4L489.9 145.8L481.9 145.8Z"/>
<path d="M469.5 122.9L473.5 131.2L465.5 131.2Z"/>
<path d="M501.2 128.2L505.2 136.5L497.2 136.5Z"/>
<path d="M472.3 129.2L476.3 137.6L468.3 137.6Z"/>
<path d="M473.2 144.3L477.2 152.7L469.2 152.7Z"/>
<path d="M509.9 115.3L513.9 123.7L505.9 123.7Z"/>
<path d="M495.8 135.2L499.8 143.6L491.8 143.6Z"/>
<path d="M464.1 129.5L468.1 137.8L460.1 137.8Z"/>
<path d="M512.6 143.7L516.6 152.0L508.6 152.0Z"/>
<path d="M489.1 108.4L493.1 116.8L485.1 116.8Z"/>
<path d="M478.4 120.8L482.4 129.1L474.4 129.1Z"/>
<path d="M528.9 129.3L532.9 137.7L524.9 137.7Z"/>
<path d="M498.2 122.8L502.2 131.2L494.2 131.2Z"/>
<path d="M492.8 142.2L496.8 150.5L488.8 150.5Z"/>
<path d="M487.2 123.0L491.2 131.3L483.2 131.3Z"/>
<path d="M473.6 114.5L477.6 122.9L469.6 122.9Z"/>
<path d="M526.6 94.1L530.6 102.5L522.6 102.5Z"/>
<path d="M491.4 114.0L495.4 122.4L487.4 122.4Z"/>
<path d="M497.2 108.6L501.2 117.0L493.2 117.0Z"/>
<path d="M495.7 150.7L499.7 159.0L491.7 159.0Z"/>
<path d="M503.2 101.8L507.2 110.1L499.2 110.1Z"/>
<path d="M505.5 122.9L509.5 131.2L501.5 131.2Z"/>
<path d="M483.0 129.2L487.0 137.5L479.0 137.5Z"/>
<path d="M514.6 135.8L518.6 144.1L510.6 144.1Z"/>
<path d="M477.1 149.3L481.1 157.7L473.1 157.7Z"/>
<path d="M505.3 108.4L509.3 116.8L501.3 116.8Z"/>
<path d="M463.0 114.8L467.0 123.1L459.0 123.1Z"/>
<path d="M483.9 155.7L487.9 164.0L479.9 164.0Z"/>
<path d="M483.7 101.8L487.7 110.2L479.7 110.2Z"/>
<path d="M531.0 116.2L535.0 124.6L527.0 124.6Z"/>
<path d="M493.3 101.6L497.3 110.0L489.3 110.0Z"/>
<path d="M467.9 106.6L471.9 115.0L463.9 115.0Z"/>
<path d="M505.8 136.2L509.8 144.5L501.8 144.5Z"/>
<path d="M524.5 107.9L528.5 116.2L520.5 116.2Z"/>
<path d="M469.1 94.9L473.1 103.2L465.1 103.2Z"/>
<path d="M486.0 149.5L490.0 157.8L482.0 157.8Z"/>
<path d="M482.8 142.8L486.8 151.1L478.8 151.1Z"/>
<path d="M473.0 155.7L477.0 164.0L469.0 164.0Z"/>
<path d="M479.0 108.8L483.0 117.2L475.0 117.2Z"/>
<path d="M500.8 114.4L504.8 122.8L496.8 122.8Z"/>
<path d="M472.1 102.0L476.1 110.4L468.1 110.4Z"/>
<path d="M467.7 149.2L471.7 157.5L463.7 157.5Z"/>
<path d="M520.7 101.6L524.7 110.0L516.7 110.0Z"/>
<path d="M481.6 114.8L485.6 123.2L477.6 123.2Z"/>
<path d="M491.8 129.5L495.8 137.8L487.8 137.8Z"/>
<path d="M462.2 100.1L466.2 108.5L458.2 108.5Z"/>
<path d="M515.0 91.0L519.0 99.4L511.0 99.4Z"/>
<path d="M524.7 86.5L528.7 94.9L520.7 94.9Z"/>
<path d="M533.0 85.8L537.0 94.2L529.0 94.2Z"/>
<path d="M539.0 91.8L543.0 100.2L535.0 100.2Z"/>
<path d="M542.0 75.3L546.0 83.7L538.0 83.7Z"/>
<path d="M543.9 110.0L547.9 118.4L539.9 118.4Z"/>
<path d="M530.0 101.5L534.0 109.9L526.0 109.9Z"/>
<path d="M529.9 100.1L533.9 108.5L525.9 108.5Z"/>
<path d="M529.9 110.0L533.9 118.4L525.9 118.4Z"/>
<path d="M522.5 114.9L526.5 123.2L518.5 123.2Z"/>
<path d="M524.9 114.8L528.9 123.2L520.9 123.2Z"/>
<path d="M529.9 126.0L533.9 134.3L525.9 134.3Z"/>
<path d="M524.9 134.7L528.9 143.0L520.9 143.0Z"/>
<path d="M558.2 148.2L562.2 156.6L554.2 156.6Z"/>
<path d="M524.9 156.8L528.9 165.2L520.9 165.2Z"/>
<path d="M466.8 163.3L470.8 171.7L462.8 171.7Z"/>
<path d="M490.4 164.2L494.4 172.5L486.4 172.5Z"/>
<path d="M510.3 158.9L514.3 167.2L506.3 167.2Z"/>
<path d="M510.3 162.7L514.3 171.0L506.3 171.0Z"/>
<path d="M524.3 157.4L528.3 165.8L520.3 165.8Z"/>
</g>
<g fill="#4472c4" stroke="#2a4a85" stroke-width="1">
<circle cx="172.5" cy="278.6" r="5.9"/>
<circle cx="49.2" cy="278.6" r="5.9"/>
<circle cx="55.7" cy="278.6" r="5.9"/>
<circle cx="61.2" cy="278.6" r="5.9"/>
<circle cx="81.2" cy="278.6" r="5.9"/>
<circle cx="96.5" cy="278.6" r="5.9"/>
<circle cx="112.2" cy="278.6" r="5.9"/>
<circle cx="53.0" cy="318.2" r="5.9"/>
<circle cx="98.3" cy="307.9" r="5.9"/>
<circle cx="111.5" cy="330.2" r="5.9"/>
<circle cx="78.1" cy="345.5" r="5.9"/>
<circle cx="89.9" cy="357.3" r="5.9"/>
<circle cx="108.1" cy="344.6" r="5.9"/>
<circle cx="110.9" cy="342.8" r="5.9"/>
<circle cx="110.9" cy="333.6" r="5.9"/>
<circle cx="121.9" cy="333.4" r="5.9"/>
<circle cx="124.4" cy="357.8" r="5.9"/>
<circle cx="152.7" cy="319.3" r="5.9"/>
<circle cx="136.0" cy="354.0" r="5.9"/>
<circle cx="48.9" cy="377.4" r="5.9"/>
<circle cx="65.3" cy="373.7" r="5.9"/>
<circle cx="98.1" cy="369.2" r="5.9"/>
<circle cx="123.6" cy="371.9" r="5.9"/>
<circle cx="58.0" cy="385.6" r="5.9"/>
<circle cx="108.1" cy="386.5" r="5.9"/>
<circle cx="120.9" cy="386.5" r="5.9"/>
<circle cx="83.5" cy="398.3" r="5.9"/>
<circle cx="98.1" cy="397.4" r="5.9"/>
<circle cx="114.5" cy="399.2" r="5.9"/>
<circle cx="49.8" cy="377.4" r="5.9"/>
<circle cx="39.9" cy="376.1" r="5.9"/>
<circle cx="56.6" cy="387.3" r="5.9"/>
<circle cx="43.0" cy="387.3" r="5.9"/>
<circle cx="83.9" cy="397.2" r="5.9"/>
<circle cx="77.7" cy="384.8" r="5.9"/>
<circle cx="40.5" cy="402.2" r="5.9"/>
<circle cx="103.8" cy="384.2" r="5.9"/>
<circle cx="124.4" cy="372.4" r="5.9"/>
<circle cx="136.2" cy="359.2" r="5.9"/>
<circle cx="136.9" cy="378.0" r="5.9"/>
<circle cx="155.0" cy="371.7" r="5.9"/>
<circle cx="163.4" cy="371.7" r="5.9"/>
<circle cx="146.7" cy="387.0" r="5.9"/>
<circle cx="133.4" cy="384.2" r="5.9"/>
<circle cx="126.5" cy="385.0" r="5.9"/>
<circle cx="108.4" cy="387.0" r="5.9"/>
<circle cx="132.7" cy="396.1" r="5.9"/>
<circle cx="140.0" cy="405.5" r="5.9"/>
<circle cx="115.3" cy="398.9" r="5.9"/>
<circle cx="100.7" cy="396.8" r="5.9"/>
<circle cx="47.0" cy="408.0" r="5.9"/>
<circle cx="60.0" cy="408.0" r="5.9"/>
<circle cx="72.0" cy="408.0" r="5.9"/>
<circle cx="88.0" cy="408.0" r="5.9"/>
<circle cx="100.0" cy="406.0" r="5.9"/>
<circle cx="110.0" cy="406.0" r="5.9"/>
<circle cx="172.5" cy="305.0" r="5.9"/>
<circle cx="172.5" cy="310.0" r="5.9"/>
<circle cx="172.5" cy="315.0" r="5.9"/>
<circle cx="172.5" cy="320.0" r="5.9"/>
<circle cx="172.5" cy="325.0" r="5.9"/>
<circle cx="172.5" cy="330.0" r="5.9"/>
<circle cx="172.5" cy="335.0" r="5.9"/>
<circle cx="172.5" cy="340.0" r="5.9"/>
<circle cx="172.5" cy="345.0" r="5.9"/>
<circle cx="172.5" cy="350.0" r="5.9"/>
<circle cx="172.5" cy="355.0" r="5.9"/>
<circle cx="172.5" cy="360.0" r="5.9"/>
<circle cx="172.5" cy="365.0" r="5.9"/>
<circle cx="172.5" cy="370.0" r="5.9"/>
<circle cx="172.5" cy="375.0" r="5.9"/>
<circle cx="172.5" cy="380.0" r="5.9"/>
<circle cx="172.5" cy="385.0" r="5.9"/>
<circle cx="172.5" cy="390.0" r="5.9"/>
<circle cx="172.5" cy="395.0" r="5.9"/>
<circle cx="172.5" cy="400.0" r="5.9"/>
<circle cx="172.5" cy="405.0" r="5.9"/>
<circle cx="172.5" cy="410.0" r="5.9"/>
<circle cx="65.3" cy="402.1" r="5.9"/>
<circle cx="83.9" cy="385.6" r="5.9"/>
<circle cx="92.3" cy="385.6" r="5.9"/>
<circle cx="83.4" cy="402.6" r="5.9"/>
<circle cx="51.3" cy="393.8" r="5.9"/>
<circle cx="46.5" cy="386.7" r="5.9"/>
<circle cx="85.8" cy="392.8" r="5.9"/>
<circle cx="74.0" cy="386.4" r="5.9"/>
<circle cx="100.6" cy="403.3" r="5.9"/>
<circle cx="94.6" cy="393.3" r="5.9"/>
<circle cx="54.9" cy="401.4" r="5.9"/>
<circle cx="78.9" cy="393.1" r="5.9"/>
<circle cx="105.2" cy="395.0" r="5.9"/>
<circle cx="58.6" cy="410.9" r="5.9"/>
<circle cx="78.9" cy="411.3" r="5.9"/>
<circle cx="69.6" cy="411.4" r="5.9"/>
<circle cx="92.5" cy="401.2" r="5.9"/>
<circle cx="68.0" cy="393.5" r="5.9"/>
<circle cx="49.7" cy="409.7" r="5.9"/>
<circle cx="96.7" cy="409.5" r="5.9"/>
<circle cx="72.8" cy="400.8" r="5.9"/>
<circle cx="46.0" cy="401.6" r="5.9"/>
<circle cx="60.4" cy="393.0" r="5.9"/>
<circle cx="65.3" cy="386.3" r="5.9"/>
<circle cx="55.1" cy="384.7" r="5.9"/>
<circle cx="100.7" cy="386.5" r="5.9"/>
<circle cx="49.8" cy="377.4" r="5.9"/>
<circle cx="56.6" cy="387.3" r="5.9"/>
<circle cx="83.9" cy="397.2" r="5.9"/>
<circle cx="77.7" cy="384.8" r="5.9"/>
<circle cx="40.5" cy="402.2" r="5.9"/>
<circle cx="66.0" cy="395.0" r="5.9"/>
<circle cx="92.0" cy="392.0" r="5.9"/>
<circle cx="60.0" cy="405.0" r="5.9"/>
<circle cx="88.0" cy="406.0" r="5.9"/>
<circle cx="72.0" cy="380.0" r="5.9"/>
<circle cx="100.0" cy="381.0" r="5.9"/>
</g>
<g fill="#70ad47" stroke="#365f1e" stroke-width="1" stroke-linejoin="miter">
<path d="M99.2 382.4L104.0 391.9L94.5 391.9Z"/>
<path d="M105.2 392.8L110.0 402.2L100.5 402.2Z"/>
<path d="M61.8 393.9L66.5 403.4L57.0 403.4Z"/>
<path d="M51.3 397.8L56.0 407.2L46.5 407.2Z"/>
<path d="M92.2 403.1L97.0 412.6L87.5 412.6Z"/>
<path d="M45.3 379.1L50.0 388.6L40.5 388.6Z"/>
<path d="M75.8 403.6L80.5 413.1L71.0 413.1Z"/>
<path d="M73.3 397.9L78.0 407.4L68.5 407.4Z"/>
<path d="M85.0 383.8L89.8 393.2L80.2 393.2Z"/>
<path d="M70.4 402.4L75.2 411.9L65.7 411.9Z"/>
<path d="M66.5 377.6L71.2 387.1L61.8 387.1Z"/>
<path d="M55.0 392.4L59.8 401.9L50.2 401.9Z"/>
<path d="M104.5 402.8L109.2 412.2L99.8 412.2Z"/>
<path d="M108.4 387.6L113.2 397.1L103.7 397.1Z"/>
<path d="M94.9 377.9L99.7 387.4L90.2 387.4Z"/>
<path d="M98.3 394.1L103.0 403.6L93.5 403.6Z"/>
<path d="M52.7 377.4L57.5 386.9L48.0 386.9Z"/>
<path d="M77.3 394.2L82.0 403.8L72.5 403.8Z"/>
<path d="M104.4 384.4L109.2 393.9L99.7 393.9Z"/>
<path d="M80.0 386.9L84.8 396.4L75.2 396.4Z"/>
<path d="M80.5 399.2L85.2 408.8L75.8 408.8Z"/>
<path d="M60.0 377.8L64.8 387.2L55.2 387.2Z"/>
<path d="M92.0 393.9L96.8 403.4L87.2 403.4Z"/>
<path d="M55.3 404.4L60.0 413.9L50.5 413.9Z"/>
<path d="M44.3 389.4L49.0 398.9L39.5 398.9Z"/>
<path d="M49.0 392.2L53.8 401.8L44.2 401.8Z"/>
<path d="M87.8 389.2L92.5 398.8L83.0 398.8Z"/>
<path d="M43.1 404.4L47.9 413.9L38.4 413.9Z"/>
<path d="M58.6 389.4L63.4 398.9L53.9 398.9Z"/>
<path d="M82.8 403.4L87.5 412.9L78.0 412.9Z"/>
<path d="M48.9 402.6L53.6 412.1L44.1 412.1Z"/>
<path d="M65.9 398.8L70.7 408.2L61.2 408.2Z"/>
<path d="M100.2 387.4L105.0 396.9L95.5 396.9Z"/>
<path d="M101.4 398.6L106.2 408.1L96.7 408.1Z"/>
<path d="M62.8 374.4L67.5 383.9L58.0 383.9Z"/>
<path d="M53.6 387.4L58.4 396.9L48.9 396.9Z"/>
<path d="M97.5 402.2L102.2 411.8L92.8 411.8Z"/>
<path d="M93.6 397.9L98.3 407.4L88.8 407.4Z"/>
<path d="M48.1 382.9L52.9 392.4L43.4 392.4Z"/>
<path d="M46.0 398.9L50.8 408.4L41.2 408.4Z"/>
<path d="M62.8 383.6L67.5 393.1L58.0 393.1Z"/>
<path d="M88.2 378.4L93.0 387.9L83.5 387.9Z"/>
<path d="M172.5 273.9L177.2 283.4L167.8 283.4Z"/>
<path d="M49.8 273.9L54.5 283.4L45.0 283.4Z"/>
<path d="M56.0 273.9L60.8 283.4L51.2 283.4Z"/>
<path d="M61.2 273.9L66.0 283.4L56.5 283.4Z"/>
<path d="M81.2 273.9L86.0 283.4L76.5 283.4Z"/>
<path d="M96.5 273.9L101.2 283.4L91.8 283.4Z"/>
<path d="M112.2 273.9L117.0 283.4L107.5 283.4Z"/>
<path d="M53.0 313.4L57.8 322.9L48.2 322.9Z"/>
<path d="M98.5 303.2L103.2 312.8L93.8 312.8Z"/>
<path d="M111.5 325.4L116.2 334.9L106.8 334.9Z"/>
<path d="M49.8 339.9L54.5 349.4L45.0 349.4Z"/>
<path d="M78.1 340.8L82.8 350.2L73.3 350.2Z"/>
<path d="M89.9 352.6L94.7 362.1L85.2 362.1Z"/>
<path d="M108.1 339.9L112.8 349.4L103.3 349.4Z"/>
<path d="M115.4 340.8L120.2 350.2L110.7 350.2Z"/>
<path d="M110.9 328.9L115.7 338.4L106.2 338.4Z"/>
<path d="M118.1 330.8L122.8 340.2L113.3 340.2Z"/>
<path d="M121.9 328.6L126.7 338.1L117.2 338.1Z"/>
<path d="M124.4 353.1L129.2 362.6L119.7 362.6Z"/>
<path d="M152.7 322.2L157.4 331.8L147.9 331.8Z"/>
<path d="M136.0 346.6L140.8 356.1L131.2 356.1Z"/>
<path d="M136.0 349.2L140.8 358.8L131.2 358.8Z"/>
<path d="M41.7 366.2L46.5 375.8L37.0 375.8Z"/>
<path d="M70.9 367.2L75.7 376.8L66.2 376.8Z"/>
<path d="M76.5 367.2L81.2 376.8L71.8 376.8Z"/>
<path d="M85.1 367.2L89.8 376.8L80.3 376.8Z"/>
<path d="M90.1 367.2L94.8 376.8L85.3 376.8Z"/>
<path d="M96.3 366.2L101.0 375.8L91.5 375.8Z"/>
<path d="M105.6 367.2L110.3 376.8L100.8 376.8Z"/>
<path d="M83.9 374.2L88.7 383.8L79.2 383.8Z"/>
<path d="M62.2 380.2L67.0 389.8L57.5 389.8Z"/>
<path d="M79.0 380.2L83.8 389.8L74.2 389.8Z"/>
<path d="M81.4 379.2L86.2 388.8L76.7 388.8Z"/>
<path d="M95.1 382.2L99.8 391.8L90.3 391.8Z"/>
<path d="M41.7 385.2L46.5 394.8L37.0 394.8Z"/>
<path d="M50.4 387.2L55.1 396.8L45.6 396.8Z"/>
<path d="M59.7 387.2L64.5 396.8L55.0 396.8Z"/>
<path d="M65.3 385.2L70.0 394.8L60.5 394.8Z"/>
<path d="M101.3 385.2L106.0 394.8L96.5 394.8Z"/>
<path d="M106.2 385.2L111.0 394.8L101.5 394.8Z"/>
<path d="M44.8 393.2L49.5 402.8L40.0 402.8Z"/>
<path d="M51.0 393.2L55.8 402.8L46.2 402.8Z"/>
<path d="M59.7 395.2L64.5 404.8L55.0 404.8Z"/>
<path d="M68.4 395.2L73.2 404.8L63.7 404.8Z"/>
<path d="M75.2 395.2L80.0 404.8L70.5 404.8Z"/>
<path d="M91.3 393.2L96.0 402.8L86.5 402.8Z"/>
<path d="M96.3 395.2L101.0 404.8L91.5 404.8Z"/>
<path d="M41.7 405.2L46.5 414.8L37.0 414.8Z"/>
<path d="M48.5 405.2L53.2 414.8L43.8 414.8Z"/>
<path d="M56.0 405.2L60.8 414.8L51.2 414.8Z"/>
<path d="M64.0 405.2L68.8 414.8L59.2 414.8Z"/>
<path d="M67.8 405.2L72.5 414.8L63.0 414.8Z"/>
<path d="M77.7 405.2L82.5 414.8L73.0 414.8Z"/>
<path d="M83.9 405.2L88.7 414.8L79.2 414.8Z"/>
<path d="M92.6 405.2L97.3 414.8L87.8 414.8Z"/>
<path d="M97.6 405.2L102.3 414.8L92.8 414.8Z"/>
<path d="M107.7 367.6L112.5 377.1L103.0 377.1Z"/>
<path d="M124.4 367.6L129.2 377.1L119.7 377.1Z"/>
<path d="M122.3 367.6L127.0 377.1L117.5 377.1Z"/>
<path d="M125.1 353.8L129.8 363.2L120.3 363.2Z"/>
<path d="M136.9 351.6L141.7 361.1L132.2 361.1Z"/>
<path d="M134.1 355.9L138.8 365.4L129.3 365.4Z"/>
<path d="M146.0 369.8L150.8 379.2L141.2 379.2Z"/>
<path d="M155.0 366.9L159.8 376.4L150.2 376.4Z"/>
<path d="M163.4 366.9L168.2 376.4L158.7 376.4Z"/>
<path d="M134.8 380.2L139.6 389.8L130.1 389.8Z"/>
<path d="M127.2 381.6L131.9 391.1L122.5 391.1Z"/>
<path d="M120.2 381.6L125.0 391.1L115.5 391.1Z"/>
<path d="M106.3 385.1L111.0 394.6L101.5 394.6Z"/>
<path d="M116.7 388.6L121.5 398.1L112.0 398.1Z"/>
<path d="M125.1 389.2L129.8 398.8L120.3 398.8Z"/>
<path d="M132.0 393.4L136.8 402.9L127.2 402.9Z"/>
<path d="M140.4 395.6L145.2 405.1L135.7 405.1Z"/>
<path d="M116.7 396.2L121.5 405.8L112.0 405.8Z"/>
<path d="M164.2 366.9L168.9 376.4L159.4 376.4Z"/>
<path d="M172.5 300.4L177.2 309.9L167.8 309.9Z"/>
<path d="M172.5 305.1L177.2 314.6L167.8 314.6Z"/>
<path d="M172.5 315.6L177.2 325.1L167.8 325.1Z"/>
<path d="M172.5 319.9L177.2 329.4L167.8 329.4Z"/>
<path d="M172.5 324.1L177.2 333.6L167.8 333.6Z"/>
<path d="M172.5 332.4L177.2 341.9L167.8 341.9Z"/>
<path d="M172.5 335.9L177.2 345.4L167.8 345.4Z"/>
<path d="M172.5 342.9L177.2 352.4L167.8 352.4Z"/>
<path d="M172.5 346.2L177.2 355.8L167.8 355.8Z"/>
<path d="M172.5 351.9L177.2 361.4L167.8 361.4Z"/>
<path d="M172.5 355.4L177.2 364.9L167.8 364.9Z"/>
<path d="M172.5 358.2L177.2 367.8L167.8 367.8Z"/>
<path d="M172.5 361.1L177.2 370.6L167.8 370.6Z"/>
<path d="M172.5 363.9L177.2 373.4L167.8 373.4Z"/>
<path d="M172.5 372.1L177.2 381.6L167.8 381.6Z"/>
<path d="M172.5 381.2L177.2 390.8L167.8 390.8Z"/>
<path d="M172.5 385.4L177.2 394.9L167.8 394.9Z"/>
<path d="M172.5 388.9L177.2 398.4L167.8 398.4Z"/>
<path d="M172.5 393.8L177.2 403.2L167.8 403.2Z"/>
<path d="M172.5 397.2L177.2 406.8L167.8 406.8Z"/>
<path d="M172.5 404.9L177.2 414.4L167.8 414.4Z"/>
<path d="M172.5 407.6L177.2 417.1L167.8 417.1Z"/>
</g>
<g fill="#4472c4" stroke="#2a4a85" stroke-width="1">
<circle cx="302.7" cy="286.5" r="5.9"/>
<circle cx="259.2" cy="303.7" r="5.9"/>
<circle cx="249.5" cy="311.2" r="5.9"/>
<circle cx="257.7" cy="311.2" r="5.9"/>
<circle cx="239.7" cy="320.2" r="5.9"/>
<circle cx="277.2" cy="317.2" r="5.9"/>
<circle cx="257.0" cy="324.7" r="5.9"/>
<circle cx="270.5" cy="324.7" r="5.9"/>
<circle cx="241.2" cy="335.2" r="5.9"/>
<circle cx="296.0" cy="334.5" r="5.9"/>
<circle cx="303.5" cy="333.0" r="5.9"/>
<circle cx="345.0" cy="285.0" r="5.9"/>
<circle cx="350.2" cy="295.5" r="5.9"/>
<circle cx="360.7" cy="301.5" r="5.9"/>
<circle cx="324.7" cy="309.7" r="5.9"/>
<circle cx="332.2" cy="311.2" r="5.9"/>
<circle cx="344.2" cy="319.5" r="5.9"/>
<circle cx="330.0" cy="316.5" r="5.9"/>
<circle cx="320.2" cy="324.7" r="5.9"/>
<circle cx="351.7" cy="331.5" r="5.9"/>
<circle cx="331.5" cy="331.5" r="5.9"/>
<circle cx="340.5" cy="333.0" r="5.9"/>
<circle cx="321.0" cy="334.5" r="5.9"/>
<circle cx="339.9" cy="358.9" r="5.9"/>
<circle cx="366.8" cy="357.0" r="5.9"/>
<circle cx="328.3" cy="373.4" r="5.9"/>
<circle cx="346.6" cy="384.0" r="5.9"/>
<circle cx="316.7" cy="349.3" r="5.9"/>
<circle cx="313.9" cy="378.2" r="5.9"/>
<circle cx="312.9" cy="386.8" r="5.9"/>
<circle cx="312.9" cy="408.0" r="5.9"/>
<circle cx="242.3" cy="337.0" r="5.9"/>
<circle cx="265.3" cy="337.5" r="5.9"/>
<circle cx="239.6" cy="334.3" r="5.9"/>
<circle cx="245.0" cy="345.0" r="5.9"/>
<circle cx="263.2" cy="350.9" r="5.9"/>
<circle cx="276.0" cy="353.0" r="5.9"/>
<circle cx="253.6" cy="362.1" r="5.9"/>
<circle cx="237.5" cy="368.5" r="5.9"/>
<circle cx="281.8" cy="346.8" r="5.9"/>
<circle cx="293.0" cy="346.2" r="5.9"/>
<circle cx="303.2" cy="347.8" r="5.9"/>
<circle cx="317.1" cy="338.2" r="5.9"/>
<circle cx="292.5" cy="358.6" r="5.9"/>
<circle cx="286.1" cy="370.3" r="5.9"/>
<circle cx="298.9" cy="371.4" r="5.9"/>
<circle cx="312.8" cy="375.7" r="5.9"/>
<circle cx="294.6" cy="336.0" r="5.9"/>
<circle cx="314.5" cy="403.0" r="5.9"/>
<circle cx="281.5" cy="387.7" r="5.9"/>
<circle cx="303.5" cy="401.3" r="5.9"/>
<circle cx="288.8" cy="402.0" r="5.9"/>
<circle cx="249.9" cy="389.3" r="5.9"/>
<circle cx="309.4" cy="410.1" r="5.9"/>
<circle cx="286.2" cy="410.0" r="5.9"/>
<circle cx="285.2" cy="381.6" r="5.9"/>
<circle cx="290.0" cy="361.3" r="5.9"/>
<circle cx="267.7" cy="382.5" r="5.9"/>
<circle cx="291.6" cy="409.1" r="5.9"/>
<circle cx="297.4" cy="387.2" r="5.9"/>
<circle cx="297.1" cy="401.9" r="5.9"/>
<circle cx="300.8" cy="396.2" r="5.9"/>
<circle cx="253.1" cy="368.1" r="5.9"/>
<circle cx="265.1" cy="401.1" r="5.9"/>
<circle cx="272.1" cy="374.3" r="5.9"/>
<circle cx="248.4" cy="401.6" r="5.9"/>
<circle cx="273.8" cy="389.0" r="5.9"/>
<circle cx="257.9" cy="386.6" r="5.9"/>
<circle cx="266.3" cy="386.8" r="5.9"/>
<circle cx="305.1" cy="387.3" r="5.9"/>
<circle cx="249.2" cy="375.4" r="5.9"/>
<circle cx="278.5" cy="407.8" r="5.9"/>
<circle cx="257.3" cy="402.1" r="5.9"/>
<circle cx="242.5" cy="402.8" r="5.9"/>
<circle cx="252.3" cy="381.4" r="5.9"/>
<circle cx="283.9" cy="367.9" r="5.9"/>
<circle cx="308.7" cy="380.1" r="5.9"/>
<circle cx="242.1" cy="373.2" r="5.9"/>
<circle cx="276.5" cy="394.1" r="5.9"/>
<circle cx="235.5" cy="381.8" r="5.9"/>
<circle cx="292.7" cy="381.7" r="5.9"/>
<circle cx="287.9" cy="374.5" r="5.9"/>
<circle cx="261.7" cy="380.4" r="5.9"/>
<circle cx="281.8" cy="401.8" r="5.9"/>
<circle cx="264.3" cy="374.9" r="5.9"/>
<circle cx="236.9" cy="409.8" r="5.9"/>
<circle cx="278.2" cy="379.6" r="5.9"/>
<circle cx="318.3" cy="395.2" r="5.9"/>
<circle cx="302.4" cy="381.3" r="5.9"/>
<circle cx="257.1" cy="373.6" r="5.9"/>
<circle cx="270.2" cy="409.3" r="5.9"/>
<circle cx="276.9" cy="368.5" r="5.9"/>
<circle cx="304.5" cy="375.2" r="5.9"/>
<circle cx="301.8" cy="408.2" r="5.9"/>
<circle cx="273.2" cy="402.6" r="5.9"/>
<circle cx="281.2" cy="374.2" r="5.9"/>
<circle cx="233.3" cy="401.6" r="5.9"/>
<circle cx="253.2" cy="395.0" r="5.9"/>
<circle cx="287.7" cy="386.8" r="5.9"/>
<circle cx="284.6" cy="393.6" r="5.9"/>
<circle cx="244.1" cy="408.3" r="5.9"/>
<circle cx="260.8" cy="396.4" r="5.9"/>
<circle cx="269.8" cy="394.2" r="5.9"/>
<circle cx="293.9" cy="368.3" r="5.9"/>
<circle cx="312.0" cy="387.4" r="5.9"/>
<circle cx="249.8" cy="360.6" r="5.9"/>
<circle cx="293.7" cy="395.2" r="5.9"/>
<circle cx="308.5" cy="395.2" r="5.9"/>
<circle cx="237.7" cy="395.0" r="5.9"/>
<circle cx="244.7" cy="395.0" r="5.9"/>
<circle cx="242.0" cy="388.1" r="5.9"/>
<circle cx="316.3" cy="380.0" r="5.9"/>
<circle cx="253.1" cy="409.6" r="5.9"/>
<circle cx="244.5" cy="380.9" r="5.9"/>
<circle cx="317.9" cy="408.8" r="5.9"/>
<circle cx="259.6" cy="408.9" r="5.9"/>
<circle cx="241.0" cy="394.0" r="5.9"/>
<circle cx="248.0" cy="394.0" r="5.9"/>
<circle cx="305.0" cy="395.0" r="5.9"/>
<circle cx="300.0" cy="390.0" r="5.9"/>
<circle cx="256.0" cy="392.0" r="5.9"/>
<circle cx="290.0" cy="404.0" r="5.9"/>
<circle cx="265.0" cy="398.0" r="5.9"/>
</g>
<g fill="#70ad47" stroke="#365f1e" stroke-width="1" stroke-linejoin="miter">
<path d="M259.2 299.1L263.8 308.3L254.5 308.3Z"/>
<path d="M239.7 315.6L244.3 324.8L235.0 324.8Z"/>
<path d="M250.2 314.9L254.8 324.1L245.5 324.1Z"/>
<path d="M265.2 313.4L269.8 322.6L260.6 322.6Z"/>
<path d="M277.2 312.6L281.8 321.8L272.6 321.8Z"/>
<path d="M256.2 322.4L260.8 331.6L251.5 331.6Z"/>
<path d="M262.2 320.9L266.8 330.1L257.6 330.1Z"/>
<path d="M268.2 322.4L272.8 331.6L263.6 331.6Z"/>
<path d="M266.0 326.1L270.6 335.3L261.4 335.3Z"/>
<path d="M260.0 329.9L264.6 339.1L255.3 339.1Z"/>
<path d="M249.5 330.6L254.2 339.8L244.8 339.8Z"/>
<path d="M241.2 330.6L245.8 339.8L236.5 339.8Z"/>
<path d="M306.5 309.6L311.1 318.8L301.9 318.8Z"/>
<path d="M290.0 321.6L294.6 330.8L285.4 330.8Z"/>
<path d="M285.5 325.4L290.1 334.6L280.9 334.6Z"/>
<path d="M307.2 320.9L311.8 330.1L302.6 330.1Z"/>
<path d="M296.0 329.9L300.6 339.1L291.4 339.1Z"/>
<path d="M285.5 331.4L290.1 340.6L280.9 340.6Z"/>
<path d="M367.5 281.9L372.1 291.1L362.9 291.1Z"/>
<path d="M350.2 293.4L354.8 302.6L345.6 302.6Z"/>
<path d="M324.7 306.6L329.3 315.8L320.1 315.8Z"/>
<path d="M340.5 310.4L345.1 319.6L335.9 319.6Z"/>
<path d="M344.2 316.4L348.8 325.6L339.6 325.6Z"/>
<path d="M330.0 314.1L334.6 323.3L325.4 323.3Z"/>
<path d="M333.7 317.1L338.3 326.3L329.1 326.3Z"/>
<path d="M308.2 320.9L312.8 330.1L303.6 330.1Z"/>
<path d="M351.7 326.9L356.3 336.1L347.1 336.1Z"/>
<path d="M336.7 331.4L341.3 340.6L332.1 340.6Z"/>
<path d="M312.7 329.9L317.3 339.1L308.1 339.1Z"/>
<path d="M339.9 354.2L344.5 363.5L335.2 363.5Z"/>
<path d="M360.1 349.5L364.8 358.8L355.5 358.8Z"/>
<path d="M238.0 404.4L242.7 413.6L233.3 413.6Z"/>
<path d="M247.0 404.9L251.7 414.1L242.3 414.1Z"/>
<path d="M257.0 404.4L261.6 413.6L252.3 413.6Z"/>
<path d="M266.0 404.9L270.6 414.1L261.4 414.1Z"/>
<path d="M276.0 404.4L280.6 413.6L271.4 413.6Z"/>
<path d="M285.0 403.9L289.6 413.1L280.4 413.1Z"/>
<path d="M296.0 404.4L300.6 413.6L291.4 413.6Z"/>
<path d="M306.0 403.9L310.6 413.1L301.4 413.1Z"/>
<path d="M235.4 384.6L240.1 393.8L230.8 393.8Z"/>
<path d="M266.3 397.9L270.9 407.1L261.7 407.1Z"/>
<path d="M285.4 385.0L290.0 394.2L280.8 394.2Z"/>
<path d="M277.2 386.9L281.8 396.1L272.6 396.1Z"/>
<path d="M289.2 381.0L293.8 390.2L284.6 390.2Z"/>
<path d="M254.3 380.2L258.9 389.5L249.7 389.5Z"/>
<path d="M243.3 373.4L248.0 382.6L238.7 382.6Z"/>
<path d="M291.0 385.4L295.6 394.6L286.4 394.6Z"/>
<path d="M263.2 404.4L267.8 413.6L258.6 413.6Z"/>
<path d="M239.6 403.5L244.2 412.8L234.9 412.8Z"/>
<path d="M264.5 379.2L269.1 388.5L259.9 388.5Z"/>
<path d="M276.5 399.6L281.1 408.8L271.9 408.8Z"/>
<path d="M256.3 403.2L260.9 412.5L251.7 412.5Z"/>
<path d="M311.9 391.4L316.5 400.6L307.2 400.6Z"/>
<path d="M251.1 374.9L255.8 384.1L246.4 384.1Z"/>
<path d="M243.8 384.2L248.5 393.5L239.2 393.5Z"/>
<path d="M299.7 398.2L304.3 407.4L295.1 407.4Z"/>
<path d="M288.3 392.5L292.9 401.8L283.7 401.8Z"/>
<path d="M252.0 396.9L256.6 406.1L247.3 406.1Z"/>
<path d="M260.0 398.6L264.6 407.8L255.3 407.8Z"/>
<path d="M248.2 379.2L252.8 388.5L243.5 388.5Z"/>
<path d="M307.5 399.0L312.1 408.2L302.9 408.2Z"/>
<path d="M305.4 380.5L310.0 389.8L300.8 389.8Z"/>
<path d="M272.5 392.8L277.1 402.0L267.9 402.0Z"/>
<path d="M278.9 390.7L283.5 399.9L274.2 399.9Z"/>
<path d="M251.3 385.7L256.0 394.9L246.7 394.9Z"/>
<path d="M312.6 378.5L317.2 387.8L308.0 387.8Z"/>
<path d="M308.1 384.7L312.8 393.9L303.5 393.9Z"/>
<path d="M254.9 392.5L259.6 401.8L250.2 401.8Z"/>
<path d="M246.4 404.5L251.1 413.8L241.8 413.8Z"/>
<path d="M267.8 385.4L272.4 394.6L263.2 394.6Z"/>
<path d="M272.4 379.0L277.0 388.2L267.8 388.2Z"/>
<path d="M285.5 398.4L290.1 407.6L280.9 407.6Z"/>
<path d="M243.6 399.2L248.2 408.5L238.9 408.5Z"/>
<path d="M281.3 380.6L285.9 389.8L276.7 389.8Z"/>
<path d="M295.0 391.8L299.6 401.0L290.4 401.0Z"/>
<path d="M238.8 380.2L243.5 389.5L234.2 389.5Z"/>
<path d="M295.7 379.7L300.3 388.9L291.1 388.9Z"/>
<path d="M328.3 368.8L332.9 378.0L323.7 378.0Z"/>
<path d="M346.6 379.4L351.2 388.6L342.0 388.6Z"/>
<path d="M344.7 380.2L349.3 389.5L340.1 389.5Z"/>
<path d="M330.2 393.8L334.8 403.0L325.6 403.0Z"/>
<path d="M318.7 350.4L323.3 359.6L314.1 359.6Z"/>
<path d="M320.6 354.2L325.2 363.5L316.0 363.5Z"/>
<path d="M312.9 354.2L317.5 363.5L308.2 363.5Z"/>
<path d="M311.9 339.9L316.5 349.1L307.2 349.1Z"/>
<path d="M311.9 365.9L316.5 375.1L307.2 375.1Z"/>
<path d="M311.9 392.8L316.5 402.0L307.2 402.0Z"/>
<path d="M242.3 332.4L247.0 341.6L237.7 341.6Z"/>
<path d="M249.8 331.8L254.5 341.0L245.2 341.0Z"/>
<path d="M260.0 331.2L264.6 340.5L255.3 340.5Z"/>
<path d="M250.3 339.2L255.0 348.5L245.7 348.5Z"/>
<path d="M245.0 346.2L249.7 355.5L240.3 355.5Z"/>
<path d="M253.6 348.4L258.2 357.6L248.9 357.6Z"/>
<path d="M242.3 350.6L247.0 359.8L237.7 359.8Z"/>
<path d="M249.8 351.6L254.5 360.8L245.2 360.8Z"/>
<path d="M257.8 352.7L262.4 361.9L253.2 361.9Z"/>
<path d="M268.5 353.8L273.1 363.0L263.9 363.0Z"/>
<path d="M277.1 351.1L281.8 360.3L272.5 360.3Z"/>
<path d="M272.8 359.7L277.4 368.9L268.2 368.9Z"/>
<path d="M246.6 358.6L251.2 367.8L241.9 367.8Z"/>
<path d="M240.2 368.8L244.8 378.0L235.5 378.0Z"/>
<path d="M248.7 365.0L253.3 374.2L244.0 374.2Z"/>
<path d="M256.2 367.7L260.8 376.9L251.5 376.9Z"/>
<path d="M265.3 368.2L269.9 377.4L260.7 377.4Z"/>
<path d="M282.8 344.2L287.4 353.5L278.2 353.5Z"/>
<path d="M294.1 343.8L298.8 353.0L289.5 353.0Z"/>
<path d="M311.2 341.6L315.8 350.8L306.6 350.8Z"/>
<path d="M277.0 351.2L281.6 360.5L272.4 360.5Z"/>
<path d="M272.1 359.2L276.8 368.5L267.5 368.5Z"/>
<path d="M279.1 357.7L283.8 366.9L274.5 366.9Z"/>
<path d="M286.1 355.6L290.8 364.8L281.5 364.8Z"/>
<path d="M297.3 357.2L301.9 366.4L292.7 366.4Z"/>
<path d="M304.3 353.4L308.9 362.6L299.7 362.6Z"/>
<path d="M311.2 352.9L315.8 362.1L306.6 362.1Z"/>
<path d="M317.1 354.5L321.8 363.8L312.5 363.8Z"/>
<path d="M310.1 365.7L314.8 374.9L305.5 374.9Z"/>
<path d="M292.0 367.9L296.6 377.1L287.4 377.1Z"/>
<path d="M302.1 372.2L306.8 381.4L297.5 381.4Z"/>
<path d="M287.7 373.8L292.3 383.0L283.1 383.0Z"/>
<path d="M275.9 372.7L280.5 381.9L271.2 381.9Z"/>
</g>
<path d="M41.50 167.50L188.70 20.40" stroke="#000" stroke-width="2" fill="none"/>
<path d="M252.50 167.20L396.00 22.40" stroke="#000" stroke-width="2" fill="none"/>
<path d="M462.40 166.90L606.80 22.30" stroke="#000" stroke-width="2" fill="none"/>
<path d="M42.40 409.80L172.50 278.60" stroke="#000" stroke-width="2" fill="none"/>
<path d="M236.10 410.60L378.40 266.60" stroke="#000" stroke-width="2" fill="none"/>
<circle cx="57.5" cy="33.5" r="3.8" fill="#4472c4" stroke="#2a4a85" stroke-width="0.8"/>
<path d="M57.3 46.5L61 53.6L53.6 53.6Z" fill="#70ad47" stroke="#365f1e" stroke-width="0.8"/>
<text x="64.18" y="36.90" font-family="Liberation Sans" font-size="10.6" textLength="18.11" lengthAdjust="spacingAndGlyphs" fill="#262626">STP</text>
<text x="63.70" y="53.60" font-family="Liberation Sans" font-size="10.6" textLength="23.07" lengthAdjust="spacingAndGlyphs" fill="#262626">MTP</text>
<text x="73.67" y="11.80" font-family="Liberation Sans" font-size="14" textLength="56.22" lengthAdjust="spacingAndGlyphs" fill="#262626">Angle (°)</text>
<text x="25.17" y="171.90" font-family="Liberation Sans" font-size="13.2" textLength="7.34" lengthAdjust="spacingAndGlyphs" fill="#262626">0</text>
<text x="37.83" y="191.20" font-family="Liberation Sans" font-size="13.2" textLength="7.34" lengthAdjust="spacingAndGlyphs" fill="#262626">0</text>
<text x="17.83" y="142.48" font-family="Liberation Sans" font-size="13.2" textLength="14.68" lengthAdjust="spacingAndGlyphs" fill="#262626">10</text>
<text x="63.35" y="191.20" font-family="Liberation Sans" font-size="13.2" textLength="14.68" lengthAdjust="spacingAndGlyphs" fill="#262626">10</text>
<text x="17.83" y="113.06" font-family="Liberation Sans" font-size="13.2" textLength="14.68" lengthAdjust="spacingAndGlyphs" fill="#262626">20</text>
<text x="92.96" y="191.20" font-family="Liberation Sans" font-size="13.2" textLength="14.68" lengthAdjust="spacingAndGlyphs" fill="#262626">20</text>
<text x="17.83" y="83.64" font-family="Liberation Sans" font-size="13.2" textLength="14.68" lengthAdjust="spacingAndGlyphs" fill="#262626">30</text>
<text x="122.49" y="191.20" font-family="Liberation Sans" font-size="13.2" textLength="14.68" lengthAdjust="spacingAndGlyphs" fill="#262626">30</text>
<text x="17.83" y="54.22" font-family="Liberation Sans" font-size="13.2" textLength="14.68" lengthAdjust="spacingAndGlyphs" fill="#262626">40</text>
<text x="152.03" y="191.20" font-family="Liberation Sans" font-size="13.2" textLength="14.68" lengthAdjust="spacingAndGlyphs" fill="#262626">40</text>
<text x="17.83" y="24.80" font-family="Liberation Sans" font-size="13.2" textLength="14.68" lengthAdjust="spacingAndGlyphs" fill="#262626">50</text>
<text x="181.35" y="191.20" font-family="Liberation Sans" font-size="13.2" textLength="14.68" lengthAdjust="spacingAndGlyphs" fill="#262626">50</text>
<text x="92.38" y="203.80" font-family="Liberation Sans" font-size="12" textLength="44.94" lengthAdjust="spacingAndGlyphs" fill="#262626">Manual</text>
<text x="105.86" y="221.00" font-family="Liberation Serif" font-weight="bold" font-size="15" textLength="19.58" lengthAdjust="spacingAndGlyphs" fill="#000">(a)</text>
<text transform="translate(15.20,123.70) rotate(-90)" x="-0.03" y="0" font-family="Liberation Sans" font-size="12.5" textLength="63.17" lengthAdjust="spacingAndGlyphs" fill="#262626">Automated</text>
<text x="291.98" y="10.70" font-family="Liberation Sans" font-size="12.5" textLength="41.91" lengthAdjust="spacingAndGlyphs" fill="#262626">Length</text>
<text x="238.42" y="171.10" font-family="Liberation Sans" font-size="11.2" textLength="6.54" lengthAdjust="spacingAndGlyphs" fill="#262626">0</text>
<text x="249.23" y="188.10" font-family="Liberation Sans" font-size="11.2" textLength="6.54" lengthAdjust="spacingAndGlyphs" fill="#262626">0</text>
<text x="231.88" y="134.90" font-family="Liberation Sans" font-size="11.2" textLength="13.08" lengthAdjust="spacingAndGlyphs" fill="#262626">20</text>
<text x="281.77" y="188.10" font-family="Liberation Sans" font-size="11.2" textLength="13.08" lengthAdjust="spacingAndGlyphs" fill="#262626">20</text>
<text x="231.88" y="98.70" font-family="Liberation Sans" font-size="11.2" textLength="13.08" lengthAdjust="spacingAndGlyphs" fill="#262626">40</text>
<text x="317.80" y="188.10" font-family="Liberation Sans" font-size="11.2" textLength="13.08" lengthAdjust="spacingAndGlyphs" fill="#262626">40</text>
<text x="231.88" y="62.50" font-family="Liberation Sans" font-size="11.2" textLength="13.08" lengthAdjust="spacingAndGlyphs" fill="#262626">60</text>
<text x="353.52" y="188.10" font-family="Liberation Sans" font-size="11.2" textLength="13.08" lengthAdjust="spacingAndGlyphs" fill="#262626">60</text>
<text x="231.88" y="26.30" font-family="Liberation Sans" font-size="11.2" textLength="13.08" lengthAdjust="spacingAndGlyphs" fill="#262626">80</text>
<text x="389.43" y="188.10" font-family="Liberation Sans" font-size="11.2" textLength="13.08" lengthAdjust="spacingAndGlyphs" fill="#262626">80</text>
<text x="303.55" y="203.40" font-family="Liberation Sans" font-size="11.5" textLength="41.80" lengthAdjust="spacingAndGlyphs" fill="#262626">Manual</text>
<text x="313.04" y="220.30" font-family="Liberation Serif" font-weight="bold" font-size="14" textLength="21.01" lengthAdjust="spacingAndGlyphs" fill="#000">(b)</text>
<text transform="translate(226.40,123.90) rotate(-90)" x="-0.02" y="0" font-family="Liberation Sans" font-size="13.5" textLength="59.31" lengthAdjust="spacingAndGlyphs" fill="#262626">Automated</text>
<text x="498.99" y="10.60" font-family="Liberation Sans" font-size="13.5" textLength="88.90" lengthAdjust="spacingAndGlyphs" fill="#262626">GM-WM Ratio</text>
<text x="444.13" y="170.80" font-family="Liberation Sans" font-size="11.0" textLength="6.42" lengthAdjust="spacingAndGlyphs" fill="#262626">0</text>
<text x="459.19" y="188.90" font-family="Liberation Sans" font-size="11.0" textLength="6.42" lengthAdjust="spacingAndGlyphs" fill="#262626">0</text>
<text x="434.62" y="141.88" font-family="Liberation Sans" font-size="11.0" textLength="16.06" lengthAdjust="spacingAndGlyphs" fill="#262626">0.2</text>
<text x="483.32" y="188.90" font-family="Liberation Sans" font-size="11.0" textLength="16.06" lengthAdjust="spacingAndGlyphs" fill="#262626">0.2</text>
<text x="434.38" y="112.96" font-family="Liberation Sans" font-size="11.0" textLength="16.06" lengthAdjust="spacingAndGlyphs" fill="#262626">0.4</text>
<text x="512.08" y="188.90" font-family="Liberation Sans" font-size="11.0" textLength="16.06" lengthAdjust="spacingAndGlyphs" fill="#262626">0.4</text>
<text x="434.55" y="84.04" font-family="Liberation Sans" font-size="11.0" textLength="16.06" lengthAdjust="spacingAndGlyphs" fill="#262626">0.6</text>
<text x="541.04" y="188.90" font-family="Liberation Sans" font-size="11.0" textLength="16.06" lengthAdjust="spacingAndGlyphs" fill="#262626">0.6</text>
<text x="434.55" y="55.12" font-family="Liberation Sans" font-size="11.0" textLength="16.06" lengthAdjust="spacingAndGlyphs" fill="#262626">0.8</text>
<text x="569.92" y="188.90" font-family="Liberation Sans" font-size="11.0" textLength="16.06" lengthAdjust="spacingAndGlyphs" fill="#262626">0.8</text>
<text x="444.24" y="26.20" font-family="Liberation Sans" font-size="11.0" textLength="6.42" lengthAdjust="spacingAndGlyphs" fill="#262626">1</text>
<text x="603.43" y="188.90" font-family="Liberation Sans" font-size="11.0" textLength="6.42" lengthAdjust="spacingAndGlyphs" fill="#262626">1</text>
<text x="513.76" y="203.80" font-family="Liberation Sans" font-size="11.5" textLength="41.59" lengthAdjust="spacingAndGlyphs" fill="#262626">Manual</text>
<text x="525.34" y="220.30" font-family="Liberation Serif" font-weight="bold" font-size="14" textLength="19.11" lengthAdjust="spacingAndGlyphs" fill="#000">(c)</text>
<text transform="translate(427.50,124.30) rotate(-90)" x="-0.02" y="0" font-family="Liberation Sans" font-size="13.5" textLength="60.23" lengthAdjust="spacingAndGlyphs" fill="#262626">Automated</text>
<text x="81.46" y="257.70" font-family="Liberation Sans" font-size="12.5" textLength="61.20" lengthAdjust="spacingAndGlyphs" fill="#262626">Risk Score</text>
<text x="23.60" y="413.90" font-family="Liberation Sans" font-size="11.6" textLength="6.77" lengthAdjust="spacingAndGlyphs" fill="#262626">0</text>
<text x="39.01" y="431.70" font-family="Liberation Sans" font-size="11.6" textLength="6.77" lengthAdjust="spacingAndGlyphs" fill="#262626">0</text>
<text x="13.58" y="387.66" font-family="Liberation Sans" font-size="11.6" textLength="16.93" lengthAdjust="spacingAndGlyphs" fill="#262626">0.2</text>
<text x="60.02" y="431.70" font-family="Liberation Sans" font-size="11.6" textLength="16.93" lengthAdjust="spacingAndGlyphs" fill="#262626">0.2</text>
<text x="13.32" y="361.42" font-family="Liberation Sans" font-size="11.6" textLength="16.93" lengthAdjust="spacingAndGlyphs" fill="#262626">0.4</text>
<text x="85.91" y="431.70" font-family="Liberation Sans" font-size="11.6" textLength="16.93" lengthAdjust="spacingAndGlyphs" fill="#262626">0.4</text>
<text x="13.50" y="335.18" font-family="Liberation Sans" font-size="11.6" textLength="16.93" lengthAdjust="spacingAndGlyphs" fill="#262626">0.6</text>
<text x="112.02" y="431.70" font-family="Liberation Sans" font-size="11.6" textLength="16.93" lengthAdjust="spacingAndGlyphs" fill="#262626">0.6</text>
<text x="13.50" y="308.94" font-family="Liberation Sans" font-size="11.6" textLength="16.93" lengthAdjust="spacingAndGlyphs" fill="#262626">0.8</text>
<text x="138.04" y="431.70" font-family="Liberation Sans" font-size="11.6" textLength="16.93" lengthAdjust="spacingAndGlyphs" fill="#262626">0.8</text>
<text x="23.72" y="282.70" font-family="Liberation Sans" font-size="11.6" textLength="6.77" lengthAdjust="spacingAndGlyphs" fill="#262626">1</text>
<text x="168.95" y="431.70" font-family="Liberation Sans" font-size="11.6" textLength="6.77" lengthAdjust="spacingAndGlyphs" fill="#262626">1</text>
<text x="93.55" y="447.00" font-family="Liberation Sans" font-size="11.5" textLength="41.80" lengthAdjust="spacingAndGlyphs" fill="#262626">Manual</text>
<text x="103.94" y="463.30" font-family="Liberation Serif" font-weight="bold" font-size="14" textLength="21.01" lengthAdjust="spacingAndGlyphs" fill="#000">(d)</text>
<text transform="translate(9.60,366.80) rotate(-90)" x="-0.02" y="0" font-family="Liberation Sans" font-size="13" textLength="59.92" lengthAdjust="spacingAndGlyphs" fill="#262626">Automated</text>
<text x="239.20" y="258.40" font-family="Liberation Sans" font-size="12.5" textLength="135.44" lengthAdjust="spacingAndGlyphs" fill="#262626">Distance to Sulci (mm)</text>
<text x="217.33" y="414.50" font-family="Liberation Sans" font-size="11.0" textLength="6.42" lengthAdjust="spacingAndGlyphs" fill="#262626">0</text>
<text x="232.89" y="432.30" font-family="Liberation Sans" font-size="11.0" textLength="6.42" lengthAdjust="spacingAndGlyphs" fill="#262626">0</text>
<text x="217.44" y="390.50" font-family="Liberation Sans" font-size="11.0" textLength="6.42" lengthAdjust="spacingAndGlyphs" fill="#262626">1</text>
<text x="256.45" y="432.30" font-family="Liberation Sans" font-size="11.0" textLength="6.42" lengthAdjust="spacingAndGlyphs" fill="#262626">1</text>
<text x="217.46" y="366.50" font-family="Liberation Sans" font-size="11.0" textLength="6.42" lengthAdjust="spacingAndGlyphs" fill="#262626">2</text>
<text x="280.32" y="432.30" font-family="Liberation Sans" font-size="11.0" textLength="6.42" lengthAdjust="spacingAndGlyphs" fill="#262626">2</text>
<text x="217.38" y="342.50" font-family="Liberation Sans" font-size="11.0" textLength="6.42" lengthAdjust="spacingAndGlyphs" fill="#262626">3</text>
<text x="304.07" y="432.30" font-family="Liberation Sans" font-size="11.0" textLength="6.42" lengthAdjust="spacingAndGlyphs" fill="#262626">3</text>
<text x="217.21" y="318.50" font-family="Liberation Sans" font-size="11.0" textLength="6.42" lengthAdjust="spacingAndGlyphs" fill="#262626">4</text>
<text x="327.79" y="432.30" font-family="Liberation Sans" font-size="11.0" textLength="6.42" lengthAdjust="spacingAndGlyphs" fill="#262626">4</text>
<text x="217.36" y="294.50" font-family="Liberation Sans" font-size="11.0" textLength="6.42" lengthAdjust="spacingAndGlyphs" fill="#262626">5</text>
<text x="351.48" y="432.30" font-family="Liberation Sans" font-size="11.0" textLength="6.42" lengthAdjust="spacingAndGlyphs" fill="#262626">5</text>
<text x="217.38" y="270.50" font-family="Liberation Sans" font-size="11.0" textLength="6.42" lengthAdjust="spacingAndGlyphs" fill="#262626">6</text>
<text x="375.15" y="432.30" font-family="Liberation Sans" font-size="11.0" textLength="6.42" lengthAdjust="spacingAndGlyphs" fill="#262626">6</text>
<text x="286.66" y="447.00" font-family="Liberation Sans" font-size="11.5" textLength="41.69" lengthAdjust="spacingAndGlyphs" fill="#262626">Manual</text>
<text x="295.20" y="463.30" font-family="Liberation Serif" font-weight="bold" font-size="14" textLength="20.31" lengthAdjust="spacingAndGlyphs" fill="#000">(e)</text>
<text transform="translate(212.10,367.10) rotate(-90)" x="-0.02" y="0" font-family="Liberation Sans" font-size="13.5" textLength="59.31" lengthAdjust="spacingAndGlyphs" fill="#262626">Automated</text>
</svg>
</body></html>
